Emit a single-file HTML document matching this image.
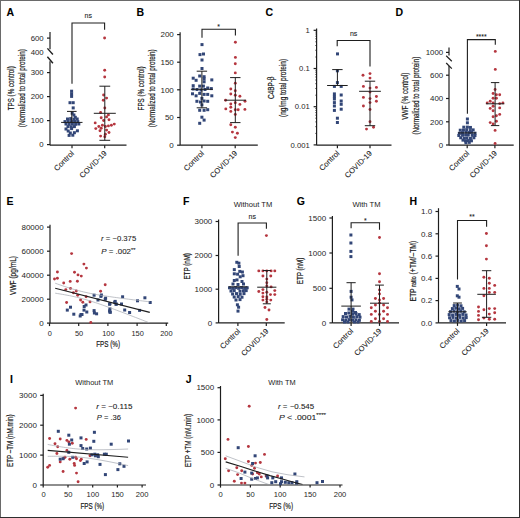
<!DOCTYPE html>
<html><head><meta charset="utf-8"><style>
html,body{margin:0;padding:0;background:#fff;}
body{width:520px;height:518px;overflow:hidden;}
svg{display:block;font-family:"Liberation Sans", sans-serif;}
</style></head><body>
<svg width="520" height="518" viewBox="0 0 520 518" font-family='"Liberation Sans", sans-serif'>
<rect x="0" y="0" width="520" height="518" fill="#fff"/>
<text x="6.50" y="15.50" font-size="10.5" text-anchor="start" font-weight="bold" fill="#000" stroke="#000" stroke-width="0.08">A</text>
<line x1="50.00" y1="32.00" x2="50.00" y2="49.20" stroke="#1e1e1e" stroke-width="1.2"/>
<line x1="50.00" y1="61.30" x2="50.00" y2="145.20" stroke="#1e1e1e" stroke-width="1.2"/>
<line x1="47.40" y1="48.40" x2="52.90" y2="54.50" stroke="#1e1e1e" stroke-width="1.4"/>
<line x1="47.40" y1="56.70" x2="52.90" y2="63.20" stroke="#1e1e1e" stroke-width="1.4"/>
<line x1="47.00" y1="38.10" x2="50.00" y2="38.10" stroke="#1e1e1e" stroke-width="1.2"/>
<line x1="47.00" y1="72.60" x2="50.00" y2="72.60" stroke="#1e1e1e" stroke-width="1.2"/>
<line x1="47.00" y1="96.60" x2="50.00" y2="96.60" stroke="#1e1e1e" stroke-width="1.2"/>
<line x1="47.00" y1="120.60" x2="50.00" y2="120.60" stroke="#1e1e1e" stroke-width="1.2"/>
<line x1="47.00" y1="144.60" x2="50.00" y2="144.60" stroke="#1e1e1e" stroke-width="1.2"/>
<text x="43.70" y="40.80" font-size="7.8" text-anchor="end" font-weight="normal" fill="#262626">600</text>
<text x="43.70" y="54.80" font-size="7.8" text-anchor="end" font-weight="normal" fill="#262626">400</text>
<text x="43.70" y="75.30" font-size="7.8" text-anchor="end" font-weight="normal" fill="#262626">300</text>
<text x="43.70" y="99.30" font-size="7.8" text-anchor="end" font-weight="normal" fill="#262626">200</text>
<text x="43.70" y="123.30" font-size="7.8" text-anchor="end" font-weight="normal" fill="#262626">100</text>
<text x="43.70" y="147.30" font-size="7.8" text-anchor="end" font-weight="normal" fill="#262626">0</text>
<line x1="50.00" y1="145.20" x2="126.50" y2="145.20" stroke="#1e1e1e" stroke-width="1.2"/>
<line x1="72.00" y1="145.20" x2="72.00" y2="148.20" stroke="#1e1e1e" stroke-width="1.2"/>
<line x1="104.70" y1="145.20" x2="104.70" y2="148.20" stroke="#1e1e1e" stroke-width="1.2"/>
<polyline points="72.00,83.80 72.00,23.00 104.60,23.00 104.60,29.70" fill="none" stroke="#1e1e1e" stroke-width="1.1"/>
<text x="88.30" y="18.00" font-size="7" text-anchor="middle" font-weight="normal" fill="#1a1a1a" stroke="#1a1a1a" stroke-width="0.08">ns</text>
<rect x="70.10" y="89.70" width="3.0" height="3.0" fill="#324677"/>
<rect x="70.10" y="92.30" width="3.0" height="3.0" fill="#324677"/>
<rect x="70.10" y="94.90" width="3.0" height="3.0" fill="#324677"/>
<rect x="68.50" y="101.20" width="3.0" height="3.0" fill="#324677"/>
<rect x="71.70" y="101.20" width="3.0" height="3.0" fill="#324677"/>
<rect x="71.70" y="106.40" width="3.0" height="3.0" fill="#324677"/>
<rect x="70.70" y="111.70" width="3.0" height="3.0" fill="#324677"/>
<rect x="72.40" y="113.50" width="3.0" height="3.0" fill="#324677"/>
<rect x="73.80" y="115.80" width="3.0" height="3.0" fill="#324677"/>
<rect x="66.00" y="117.50" width="3.0" height="3.0" fill="#324677"/>
<rect x="69.20" y="117.10" width="3.0" height="3.0" fill="#324677"/>
<rect x="72.50" y="117.70" width="3.0" height="3.0" fill="#324677"/>
<rect x="75.70" y="117.50" width="3.0" height="3.0" fill="#324677"/>
<rect x="63.50" y="120.10" width="3.0" height="3.0" fill="#324677"/>
<rect x="66.70" y="119.80" width="3.0" height="3.0" fill="#324677"/>
<rect x="69.90" y="120.10" width="3.0" height="3.0" fill="#324677"/>
<rect x="73.10" y="119.80" width="3.0" height="3.0" fill="#324677"/>
<rect x="76.30" y="120.10" width="3.0" height="3.0" fill="#324677"/>
<rect x="64.50" y="122.50" width="3.0" height="3.0" fill="#324677"/>
<rect x="67.70" y="122.80" width="3.0" height="3.0" fill="#324677"/>
<rect x="70.90" y="122.50" width="3.0" height="3.0" fill="#324677"/>
<rect x="74.10" y="122.80" width="3.0" height="3.0" fill="#324677"/>
<rect x="77.30" y="122.50" width="3.0" height="3.0" fill="#324677"/>
<rect x="66.50" y="125.10" width="3.0" height="3.0" fill="#324677"/>
<rect x="69.70" y="125.30" width="3.0" height="3.0" fill="#324677"/>
<rect x="72.90" y="125.10" width="3.0" height="3.0" fill="#324677"/>
<rect x="64.50" y="127.50" width="3.0" height="3.0" fill="#324677"/>
<rect x="70.10" y="127.10" width="3.0" height="3.0" fill="#324677"/>
<rect x="66.70" y="129.50" width="3.0" height="3.0" fill="#324677"/>
<rect x="75.90" y="129.30" width="3.0" height="3.0" fill="#324677"/>
<rect x="68.80" y="131.50" width="3.0" height="3.0" fill="#324677"/>
<rect x="72.90" y="131.20" width="3.0" height="3.0" fill="#324677"/>
<rect x="67.60" y="133.90" width="3.0" height="3.0" fill="#324677"/>
<rect x="71.30" y="133.70" width="3.0" height="3.0" fill="#324677"/>
<line x1="61.10" y1="122.40" x2="82.50" y2="122.40" stroke="#1e1e1e" stroke-width="1"/>
<line x1="71.80" y1="122.40" x2="71.80" y2="111.40" stroke="#1e1e1e" stroke-width="1"/>
<line x1="67.00" y1="111.40" x2="76.60" y2="111.40" stroke="#1e1e1e" stroke-width="1"/>
<circle cx="104.60" cy="38.00" r="1.45" fill="#b5363f"/>
<circle cx="104.70" cy="70.30" r="1.45" fill="#b5363f"/>
<circle cx="104.70" cy="77.00" r="1.45" fill="#b5363f"/>
<circle cx="103.60" cy="95.00" r="1.45" fill="#b5363f"/>
<circle cx="106.60" cy="98.10" r="1.45" fill="#b5363f"/>
<circle cx="103.30" cy="100.20" r="1.45" fill="#b5363f"/>
<circle cx="104.80" cy="108.00" r="1.45" fill="#b5363f"/>
<circle cx="100.60" cy="112.50" r="1.45" fill="#b5363f"/>
<circle cx="108.40" cy="114.90" r="1.45" fill="#b5363f"/>
<circle cx="106.60" cy="116.90" r="1.45" fill="#b5363f"/>
<circle cx="101.20" cy="117.80" r="1.45" fill="#b5363f"/>
<circle cx="109.00" cy="119.70" r="1.45" fill="#b5363f"/>
<circle cx="95.20" cy="122.90" r="1.45" fill="#b5363f"/>
<circle cx="103.60" cy="120.50" r="1.45" fill="#b5363f"/>
<circle cx="114.30" cy="124.10" r="1.45" fill="#b5363f"/>
<circle cx="111.40" cy="125.30" r="1.45" fill="#b5363f"/>
<circle cx="108.40" cy="125.90" r="1.45" fill="#b5363f"/>
<circle cx="105.40" cy="126.50" r="1.45" fill="#b5363f"/>
<circle cx="102.40" cy="125.30" r="1.45" fill="#b5363f"/>
<circle cx="98.80" cy="126.50" r="1.45" fill="#b5363f"/>
<circle cx="95.80" cy="128.60" r="1.45" fill="#b5363f"/>
<circle cx="101.20" cy="128.30" r="1.45" fill="#b5363f"/>
<circle cx="100.00" cy="130.70" r="1.45" fill="#b5363f"/>
<circle cx="106.60" cy="130.10" r="1.45" fill="#b5363f"/>
<circle cx="109.00" cy="132.50" r="1.45" fill="#b5363f"/>
<circle cx="105.40" cy="134.30" r="1.45" fill="#b5363f"/>
<circle cx="100.60" cy="136.10" r="1.45" fill="#b5363f"/>
<circle cx="104.80" cy="136.70" r="1.45" fill="#b5363f"/>
<line x1="93.80" y1="113.30" x2="115.80" y2="113.30" stroke="#1e1e1e" stroke-width="1"/>
<line x1="104.80" y1="113.30" x2="104.80" y2="86.20" stroke="#1e1e1e" stroke-width="1"/>
<line x1="99.40" y1="86.20" x2="110.20" y2="86.20" stroke="#1e1e1e" stroke-width="1"/>
<line x1="104.80" y1="113.30" x2="104.80" y2="140.30" stroke="#1e1e1e" stroke-width="1"/>
<line x1="99.40" y1="140.30" x2="110.20" y2="140.30" stroke="#1e1e1e" stroke-width="1"/>
<text x="13.80" y="88.30" font-size="8.19" text-anchor="middle" font-weight="normal" fill="#1a1a1a" stroke="#1a1a1a" stroke-width="0.2" transform="rotate(-90 13.80 88.30)" textLength="44" lengthAdjust="spacingAndGlyphs">TPS (% control)</text>
<text x="25.20" y="88.20" font-size="8.19" text-anchor="middle" font-weight="normal" fill="#1a1a1a" stroke="#1a1a1a" stroke-width="0.2" transform="rotate(-90 25.20 88.20)" textLength="78" lengthAdjust="spacingAndGlyphs">(Normalized to total protein)</text>
<text x="74.60" y="153.80" font-size="7.6" text-anchor="end" font-weight="normal" fill="#1a1a1a" stroke="#1a1a1a" stroke-width="0.08" transform="rotate(-45 74.60 153.80)" textLength="25.0" lengthAdjust="spacingAndGlyphs">Control</text>
<text x="107.30" y="153.80" font-size="7.6" text-anchor="end" font-weight="normal" fill="#1a1a1a" stroke="#1a1a1a" stroke-width="0.08" transform="rotate(-45 107.30 153.80)">COVID-19</text>
<text x="136.50" y="15.50" font-size="10.5" text-anchor="start" font-weight="bold" fill="#000" stroke="#000" stroke-width="0.08">B</text>
<line x1="180.10" y1="32.30" x2="180.10" y2="145.20" stroke="#1e1e1e" stroke-width="1.2"/>
<line x1="177.10" y1="34.60" x2="180.10" y2="34.60" stroke="#1e1e1e" stroke-width="1.2"/>
<text x="173.80" y="37.32" font-size="8.0" text-anchor="end" font-weight="normal" fill="#262626">200</text>
<line x1="177.10" y1="62.20" x2="180.10" y2="62.20" stroke="#1e1e1e" stroke-width="1.2"/>
<text x="173.80" y="64.92" font-size="8.0" text-anchor="end" font-weight="normal" fill="#262626">150</text>
<line x1="177.10" y1="89.80" x2="180.10" y2="89.80" stroke="#1e1e1e" stroke-width="1.2"/>
<text x="173.80" y="92.52" font-size="8.0" text-anchor="end" font-weight="normal" fill="#262626">100</text>
<line x1="177.10" y1="117.50" x2="180.10" y2="117.50" stroke="#1e1e1e" stroke-width="1.2"/>
<text x="173.80" y="120.22" font-size="8.0" text-anchor="end" font-weight="normal" fill="#262626">50</text>
<line x1="177.10" y1="145.20" x2="180.10" y2="145.20" stroke="#1e1e1e" stroke-width="1.2"/>
<text x="173.80" y="147.92" font-size="8.0" text-anchor="end" font-weight="normal" fill="#262626">0</text>
<line x1="180.10" y1="145.20" x2="257.80" y2="145.20" stroke="#1e1e1e" stroke-width="1.2"/>
<line x1="201.90" y1="145.20" x2="201.90" y2="148.20" stroke="#1e1e1e" stroke-width="1.2"/>
<line x1="235.20" y1="145.20" x2="235.20" y2="148.20" stroke="#1e1e1e" stroke-width="1.2"/>
<polyline points="202.00,37.70 202.00,29.20 235.40,29.20 235.40,35.40" fill="none" stroke="#1e1e1e" stroke-width="1.1"/>
<text x="218.70" y="28.50" font-size="7" text-anchor="middle" font-weight="normal" fill="#1a1a1a" stroke="#1a1a1a" stroke-width="0.08">*</text>
<rect x="200.50" y="43.10" width="3.0" height="3.0" fill="#324677"/>
<rect x="198.50" y="53.10" width="3.0" height="3.0" fill="#324677"/>
<rect x="202.00" y="52.50" width="3.0" height="3.0" fill="#324677"/>
<rect x="200.50" y="58.50" width="3.0" height="3.0" fill="#324677"/>
<rect x="200.50" y="67.00" width="3.0" height="3.0" fill="#324677"/>
<rect x="198.20" y="74.50" width="3.0" height="3.0" fill="#324677"/>
<rect x="202.60" y="75.20" width="3.0" height="3.0" fill="#324677"/>
<rect x="191.70" y="76.70" width="3.0" height="3.0" fill="#324677"/>
<rect x="194.60" y="78.80" width="3.0" height="3.0" fill="#324677"/>
<rect x="202.60" y="77.40" width="3.0" height="3.0" fill="#324677"/>
<rect x="210.30" y="78.40" width="3.0" height="3.0" fill="#324677"/>
<rect x="202.60" y="80.30" width="3.0" height="3.0" fill="#324677"/>
<rect x="191.70" y="84.20" width="3.0" height="3.0" fill="#324677"/>
<rect x="198.20" y="84.60" width="3.0" height="3.0" fill="#324677"/>
<rect x="201.90" y="84.60" width="3.0" height="3.0" fill="#324677"/>
<rect x="206.20" y="86.50" width="3.0" height="3.0" fill="#324677"/>
<rect x="209.80" y="87.10" width="3.0" height="3.0" fill="#324677"/>
<rect x="191.70" y="87.50" width="3.0" height="3.0" fill="#324677"/>
<rect x="195.50" y="88.00" width="3.0" height="3.0" fill="#324677"/>
<rect x="199.50" y="88.50" width="3.0" height="3.0" fill="#324677"/>
<rect x="203.50" y="88.00" width="3.0" height="3.0" fill="#324677"/>
<rect x="191.00" y="92.30" width="3.0" height="3.0" fill="#324677"/>
<rect x="194.60" y="94.30" width="3.0" height="3.0" fill="#324677"/>
<rect x="198.20" y="91.90" width="3.0" height="3.0" fill="#324677"/>
<rect x="202.60" y="92.90" width="3.0" height="3.0" fill="#324677"/>
<rect x="206.20" y="92.90" width="3.0" height="3.0" fill="#324677"/>
<rect x="210.30" y="94.30" width="3.0" height="3.0" fill="#324677"/>
<rect x="200.40" y="96.90" width="3.0" height="3.0" fill="#324677"/>
<rect x="195.40" y="99.80" width="3.0" height="3.0" fill="#324677"/>
<rect x="199.00" y="100.50" width="3.0" height="3.0" fill="#324677"/>
<rect x="202.60" y="99.50" width="3.0" height="3.0" fill="#324677"/>
<rect x="206.20" y="99.80" width="3.0" height="3.0" fill="#324677"/>
<rect x="200.40" y="103.40" width="3.0" height="3.0" fill="#324677"/>
<rect x="198.20" y="108.80" width="3.0" height="3.0" fill="#324677"/>
<rect x="202.60" y="108.80" width="3.0" height="3.0" fill="#324677"/>
<rect x="206.20" y="108.20" width="3.0" height="3.0" fill="#324677"/>
<rect x="200.40" y="115.70" width="3.0" height="3.0" fill="#324677"/>
<rect x="202.60" y="118.60" width="3.0" height="3.0" fill="#324677"/>
<rect x="198.20" y="121.80" width="3.0" height="3.0" fill="#324677"/>
<line x1="190.90" y1="89.30" x2="212.90" y2="89.30" stroke="#1e1e1e" stroke-width="1"/>
<line x1="201.90" y1="89.30" x2="201.90" y2="71.20" stroke="#1e1e1e" stroke-width="1"/>
<line x1="196.70" y1="71.20" x2="207.10" y2="71.20" stroke="#1e1e1e" stroke-width="1"/>
<line x1="201.90" y1="89.30" x2="201.90" y2="107.80" stroke="#1e1e1e" stroke-width="1"/>
<line x1="196.70" y1="107.80" x2="207.10" y2="107.80" stroke="#1e1e1e" stroke-width="1"/>
<circle cx="235.40" cy="42.30" r="1.45" fill="#b5363f"/>
<circle cx="235.40" cy="57.40" r="1.45" fill="#b5363f"/>
<circle cx="235.30" cy="63.70" r="1.45" fill="#b5363f"/>
<circle cx="235.30" cy="72.90" r="1.45" fill="#b5363f"/>
<circle cx="235.30" cy="83.20" r="1.45" fill="#b5363f"/>
<circle cx="230.80" cy="89.00" r="1.45" fill="#b5363f"/>
<circle cx="235.30" cy="90.70" r="1.45" fill="#b5363f"/>
<circle cx="230.80" cy="94.00" r="1.45" fill="#b5363f"/>
<circle cx="235.30" cy="95.20" r="1.45" fill="#b5363f"/>
<circle cx="239.90" cy="96.20" r="1.45" fill="#b5363f"/>
<circle cx="225.60" cy="100.30" r="1.45" fill="#b5363f"/>
<circle cx="245.00" cy="101.20" r="1.45" fill="#b5363f"/>
<circle cx="230.80" cy="104.00" r="1.45" fill="#b5363f"/>
<circle cx="235.30" cy="102.80" r="1.45" fill="#b5363f"/>
<circle cx="239.90" cy="104.40" r="1.45" fill="#b5363f"/>
<circle cx="225.80" cy="108.90" r="1.45" fill="#b5363f"/>
<circle cx="230.80" cy="107.30" r="1.45" fill="#b5363f"/>
<circle cx="235.30" cy="109.80" r="1.45" fill="#b5363f"/>
<circle cx="238.20" cy="109.80" r="1.45" fill="#b5363f"/>
<circle cx="244.90" cy="109.40" r="1.45" fill="#b5363f"/>
<circle cx="230.80" cy="111.40" r="1.45" fill="#b5363f"/>
<circle cx="235.30" cy="114.40" r="1.45" fill="#b5363f"/>
<circle cx="230.80" cy="124.70" r="1.45" fill="#b5363f"/>
<circle cx="235.30" cy="127.20" r="1.45" fill="#b5363f"/>
<circle cx="232.40" cy="132.10" r="1.45" fill="#b5363f"/>
<circle cx="237.40" cy="133.30" r="1.45" fill="#b5363f"/>
<circle cx="235.30" cy="137.60" r="1.45" fill="#b5363f"/>
<line x1="224.50" y1="100.20" x2="246.10" y2="100.20" stroke="#1e1e1e" stroke-width="1"/>
<line x1="235.30" y1="100.20" x2="235.30" y2="77.60" stroke="#1e1e1e" stroke-width="1"/>
<line x1="230.10" y1="77.60" x2="240.50" y2="77.60" stroke="#1e1e1e" stroke-width="1"/>
<line x1="235.30" y1="100.20" x2="235.30" y2="122.60" stroke="#1e1e1e" stroke-width="1"/>
<line x1="230.10" y1="122.60" x2="240.50" y2="122.60" stroke="#1e1e1e" stroke-width="1"/>
<text x="143.80" y="88.40" font-size="8.19" text-anchor="middle" font-weight="normal" fill="#1a1a1a" stroke="#1a1a1a" stroke-width="0.2" transform="rotate(-90 143.80 88.40)" textLength="44" lengthAdjust="spacingAndGlyphs">FPS (% control)</text>
<text x="155.20" y="88.30" font-size="8.19" text-anchor="middle" font-weight="normal" fill="#1a1a1a" stroke="#1a1a1a" stroke-width="0.2" transform="rotate(-90 155.20 88.30)" textLength="78" lengthAdjust="spacingAndGlyphs">(Normalized to total protein)</text>
<text x="204.50" y="153.80" font-size="7.6" text-anchor="end" font-weight="normal" fill="#1a1a1a" stroke="#1a1a1a" stroke-width="0.08" transform="rotate(-45 204.50 153.80)" textLength="25.0" lengthAdjust="spacingAndGlyphs">Control</text>
<text x="237.80" y="153.80" font-size="7.6" text-anchor="end" font-weight="normal" fill="#1a1a1a" stroke="#1a1a1a" stroke-width="0.08" transform="rotate(-45 237.80 153.80)">COVID-19</text>
<text x="265.50" y="16.00" font-size="10.5" text-anchor="start" font-weight="bold" fill="#000" stroke="#000" stroke-width="0.08">C</text>
<line x1="316.60" y1="28.50" x2="316.60" y2="145.20" stroke="#1e1e1e" stroke-width="1.2"/>
<line x1="313.60" y1="30.30" x2="316.60" y2="30.30" stroke="#1e1e1e" stroke-width="1.2"/>
<text x="309.80" y="33.00" font-size="7.7" text-anchor="end" font-weight="normal" fill="#262626">1</text>
<line x1="315.10" y1="57.00" x2="316.60" y2="57.00" stroke="#1e1e1e" stroke-width="0.6"/>
<line x1="315.10" y1="50.27" x2="316.60" y2="50.27" stroke="#1e1e1e" stroke-width="0.6"/>
<line x1="315.10" y1="45.50" x2="316.60" y2="45.50" stroke="#1e1e1e" stroke-width="0.6"/>
<line x1="315.10" y1="41.80" x2="316.60" y2="41.80" stroke="#1e1e1e" stroke-width="0.6"/>
<line x1="315.10" y1="38.77" x2="316.60" y2="38.77" stroke="#1e1e1e" stroke-width="0.6"/>
<line x1="315.10" y1="36.22" x2="316.60" y2="36.22" stroke="#1e1e1e" stroke-width="0.6"/>
<line x1="315.10" y1="34.00" x2="316.60" y2="34.00" stroke="#1e1e1e" stroke-width="0.6"/>
<line x1="315.10" y1="32.05" x2="316.60" y2="32.05" stroke="#1e1e1e" stroke-width="0.6"/>
<line x1="313.60" y1="68.50" x2="316.60" y2="68.50" stroke="#1e1e1e" stroke-width="1.2"/>
<text x="309.80" y="71.20" font-size="7.7" text-anchor="end" font-weight="normal" fill="#262626">0.1</text>
<line x1="315.10" y1="95.20" x2="316.60" y2="95.20" stroke="#1e1e1e" stroke-width="0.6"/>
<line x1="315.10" y1="88.47" x2="316.60" y2="88.47" stroke="#1e1e1e" stroke-width="0.6"/>
<line x1="315.10" y1="83.70" x2="316.60" y2="83.70" stroke="#1e1e1e" stroke-width="0.6"/>
<line x1="315.10" y1="80.00" x2="316.60" y2="80.00" stroke="#1e1e1e" stroke-width="0.6"/>
<line x1="315.10" y1="76.97" x2="316.60" y2="76.97" stroke="#1e1e1e" stroke-width="0.6"/>
<line x1="315.10" y1="74.42" x2="316.60" y2="74.42" stroke="#1e1e1e" stroke-width="0.6"/>
<line x1="315.10" y1="72.20" x2="316.60" y2="72.20" stroke="#1e1e1e" stroke-width="0.6"/>
<line x1="315.10" y1="70.25" x2="316.60" y2="70.25" stroke="#1e1e1e" stroke-width="0.6"/>
<line x1="313.60" y1="106.70" x2="316.60" y2="106.70" stroke="#1e1e1e" stroke-width="1.2"/>
<text x="309.80" y="109.40" font-size="7.7" text-anchor="end" font-weight="normal" fill="#262626">0.01</text>
<line x1="315.10" y1="133.40" x2="316.60" y2="133.40" stroke="#1e1e1e" stroke-width="0.6"/>
<line x1="315.10" y1="126.67" x2="316.60" y2="126.67" stroke="#1e1e1e" stroke-width="0.6"/>
<line x1="315.10" y1="121.90" x2="316.60" y2="121.90" stroke="#1e1e1e" stroke-width="0.6"/>
<line x1="315.10" y1="118.20" x2="316.60" y2="118.20" stroke="#1e1e1e" stroke-width="0.6"/>
<line x1="315.10" y1="115.17" x2="316.60" y2="115.17" stroke="#1e1e1e" stroke-width="0.6"/>
<line x1="315.10" y1="112.62" x2="316.60" y2="112.62" stroke="#1e1e1e" stroke-width="0.6"/>
<line x1="315.10" y1="110.40" x2="316.60" y2="110.40" stroke="#1e1e1e" stroke-width="0.6"/>
<line x1="315.10" y1="108.45" x2="316.60" y2="108.45" stroke="#1e1e1e" stroke-width="0.6"/>
<line x1="313.60" y1="144.90" x2="316.60" y2="144.90" stroke="#1e1e1e" stroke-width="1.2"/>
<text x="309.80" y="147.60" font-size="7.7" text-anchor="end" font-weight="normal" fill="#262626">0.001</text>
<line x1="316.60" y1="145.20" x2="391.50" y2="145.20" stroke="#1e1e1e" stroke-width="1.2"/>
<line x1="337.40" y1="145.20" x2="337.40" y2="148.20" stroke="#1e1e1e" stroke-width="1.2"/>
<line x1="370.00" y1="145.20" x2="370.00" y2="148.20" stroke="#1e1e1e" stroke-width="1.2"/>
<polyline points="337.20,46.20 337.20,40.50 370.00,40.50 370.00,66.40" fill="none" stroke="#1e1e1e" stroke-width="1.1"/>
<text x="353.60" y="36.00" font-size="7" text-anchor="middle" font-weight="normal" fill="#1a1a1a" stroke="#1a1a1a" stroke-width="0.08">ns</text>
<rect x="336.00" y="52.40" width="3.0" height="3.0" fill="#324677"/>
<rect x="335.90" y="69.30" width="3.0" height="3.0" fill="#324677"/>
<rect x="335.90" y="81.10" width="3.0" height="3.0" fill="#324677"/>
<rect x="332.90" y="84.90" width="3.0" height="3.0" fill="#324677"/>
<rect x="339.70" y="84.90" width="3.0" height="3.0" fill="#324677"/>
<rect x="332.90" y="92.40" width="3.0" height="3.0" fill="#324677"/>
<rect x="332.90" y="95.00" width="3.0" height="3.0" fill="#324677"/>
<rect x="332.90" y="97.50" width="3.0" height="3.0" fill="#324677"/>
<rect x="332.90" y="101.10" width="3.0" height="3.0" fill="#324677"/>
<rect x="332.90" y="104.50" width="3.0" height="3.0" fill="#324677"/>
<rect x="332.90" y="108.90" width="3.0" height="3.0" fill="#324677"/>
<rect x="339.70" y="93.50" width="3.0" height="3.0" fill="#324677"/>
<rect x="339.70" y="99.50" width="3.0" height="3.0" fill="#324677"/>
<rect x="339.70" y="102.80" width="3.0" height="3.0" fill="#324677"/>
<rect x="339.70" y="107.70" width="3.0" height="3.0" fill="#324677"/>
<rect x="335.90" y="116.70" width="3.0" height="3.0" fill="#324677"/>
<rect x="335.90" y="121.00" width="3.0" height="3.0" fill="#324677"/>
<line x1="327.10" y1="85.50" x2="347.70" y2="85.50" stroke="#1e1e1e" stroke-width="1"/>
<line x1="337.40" y1="85.50" x2="337.40" y2="69.60" stroke="#1e1e1e" stroke-width="1"/>
<line x1="332.20" y1="69.60" x2="342.60" y2="69.60" stroke="#1e1e1e" stroke-width="1"/>
<circle cx="363.00" cy="75.20" r="1.45" fill="#b5363f"/>
<circle cx="370.00" cy="73.60" r="1.45" fill="#b5363f"/>
<circle cx="370.00" cy="78.10" r="1.45" fill="#b5363f"/>
<circle cx="363.40" cy="86.40" r="1.45" fill="#b5363f"/>
<circle cx="370.00" cy="88.10" r="1.45" fill="#b5363f"/>
<circle cx="376.40" cy="87.40" r="1.45" fill="#b5363f"/>
<circle cx="370.00" cy="92.10" r="1.45" fill="#b5363f"/>
<circle cx="363.40" cy="97.40" r="1.45" fill="#b5363f"/>
<circle cx="370.00" cy="98.60" r="1.45" fill="#b5363f"/>
<circle cx="376.40" cy="96.50" r="1.45" fill="#b5363f"/>
<circle cx="376.40" cy="101.20" r="1.45" fill="#b5363f"/>
<circle cx="370.00" cy="102.60" r="1.45" fill="#b5363f"/>
<circle cx="363.40" cy="106.00" r="1.45" fill="#b5363f"/>
<circle cx="370.00" cy="109.50" r="1.45" fill="#b5363f"/>
<circle cx="370.00" cy="121.70" r="1.45" fill="#b5363f"/>
<circle cx="366.50" cy="129.10" r="1.45" fill="#b5363f"/>
<circle cx="373.50" cy="127.20" r="1.45" fill="#b5363f"/>
<line x1="359.10" y1="91.30" x2="380.90" y2="91.30" stroke="#1e1e1e" stroke-width="1"/>
<line x1="370.00" y1="91.30" x2="370.00" y2="81.20" stroke="#1e1e1e" stroke-width="1"/>
<line x1="364.80" y1="81.20" x2="375.20" y2="81.20" stroke="#1e1e1e" stroke-width="1"/>
<line x1="370.00" y1="91.30" x2="370.00" y2="125.70" stroke="#1e1e1e" stroke-width="1"/>
<line x1="364.80" y1="125.70" x2="375.20" y2="125.70" stroke="#1e1e1e" stroke-width="1"/>
<text x="274.50" y="87.70" font-size="8.19" text-anchor="middle" font-weight="normal" fill="#1a1a1a" stroke="#1a1a1a" stroke-width="0.2" transform="rotate(-90 274.50 87.70)" textLength="22.5" lengthAdjust="spacingAndGlyphs">C4BP-&#946;</text>
<text x="285.60" y="87.90" font-size="8.19" text-anchor="middle" font-weight="normal" fill="#1a1a1a" stroke="#1a1a1a" stroke-width="0.2" transform="rotate(-90 285.60 87.90)" textLength="58" lengthAdjust="spacingAndGlyphs">(ng/mg total protein)</text>
<text x="340.00" y="153.70" font-size="7.6" text-anchor="end" font-weight="normal" fill="#1a1a1a" stroke="#1a1a1a" stroke-width="0.08" transform="rotate(-45 340.00 153.70)" textLength="25.0" lengthAdjust="spacingAndGlyphs">Control</text>
<text x="372.60" y="153.70" font-size="7.6" text-anchor="end" font-weight="normal" fill="#1a1a1a" stroke="#1a1a1a" stroke-width="0.08" transform="rotate(-45 372.60 153.70)">COVID-19</text>
<text x="395.50" y="16.00" font-size="10.5" text-anchor="start" font-weight="bold" fill="#000" stroke="#000" stroke-width="0.08">D</text>
<line x1="449.00" y1="47.50" x2="449.00" y2="55.50" stroke="#1e1e1e" stroke-width="1.2"/>
<line x1="449.00" y1="66.00" x2="449.00" y2="145.20" stroke="#1e1e1e" stroke-width="1.2"/>
<line x1="446.20" y1="55.80" x2="451.80" y2="61.20" stroke="#1e1e1e" stroke-width="1.2"/>
<line x1="446.20" y1="63.00" x2="451.80" y2="68.60" stroke="#1e1e1e" stroke-width="1.2"/>
<line x1="446.00" y1="52.40" x2="449.00" y2="52.40" stroke="#1e1e1e" stroke-width="1.2"/>
<text x="443.20" y="55.10" font-size="7.9" text-anchor="end" font-weight="normal" fill="#262626">1000</text>
<line x1="446.00" y1="75.20" x2="449.00" y2="75.20" stroke="#1e1e1e" stroke-width="1.2"/>
<text x="443.20" y="77.90" font-size="7.9" text-anchor="end" font-weight="normal" fill="#262626">600</text>
<line x1="446.00" y1="98.50" x2="449.00" y2="98.50" stroke="#1e1e1e" stroke-width="1.2"/>
<text x="443.20" y="101.20" font-size="7.9" text-anchor="end" font-weight="normal" fill="#262626">400</text>
<line x1="446.00" y1="121.80" x2="449.00" y2="121.80" stroke="#1e1e1e" stroke-width="1.2"/>
<text x="443.20" y="124.50" font-size="7.9" text-anchor="end" font-weight="normal" fill="#262626">200</text>
<line x1="446.00" y1="145.00" x2="449.00" y2="145.00" stroke="#1e1e1e" stroke-width="1.2"/>
<text x="443.20" y="147.70" font-size="7.9" text-anchor="end" font-weight="normal" fill="#262626">0</text>
<line x1="449.00" y1="145.20" x2="513.70" y2="145.20" stroke="#1e1e1e" stroke-width="1.2"/>
<line x1="467.20" y1="145.20" x2="467.20" y2="148.20" stroke="#1e1e1e" stroke-width="1.2"/>
<line x1="494.90" y1="145.20" x2="494.90" y2="148.20" stroke="#1e1e1e" stroke-width="1.2"/>
<polyline points="467.40,113.80 467.40,39.60 495.30,39.60 495.30,44.70" fill="none" stroke="#1e1e1e" stroke-width="1.1"/>
<text x="481.35" y="38.50" font-size="7" text-anchor="middle" font-weight="normal" fill="#1a1a1a" stroke="#1a1a1a" stroke-width="0.08">****</text>
<rect x="465.90" y="117.50" width="3.0" height="3.0" fill="#324677"/>
<rect x="465.90" y="121.30" width="3.0" height="3.0" fill="#324677"/>
<rect x="462.29" y="125.68" width="3.0" height="3.0" fill="#324677"/>
<rect x="465.88" y="125.59" width="3.0" height="3.0" fill="#324677"/>
<rect x="468.94" y="125.94" width="3.0" height="3.0" fill="#324677"/>
<rect x="458.77" y="128.71" width="3.0" height="3.0" fill="#324677"/>
<rect x="461.94" y="128.62" width="3.0" height="3.0" fill="#324677"/>
<rect x="465.18" y="128.21" width="3.0" height="3.0" fill="#324677"/>
<rect x="468.81" y="129.09" width="3.0" height="3.0" fill="#324677"/>
<rect x="471.65" y="128.37" width="3.0" height="3.0" fill="#324677"/>
<rect x="457.85" y="131.84" width="3.0" height="3.0" fill="#324677"/>
<rect x="460.99" y="131.18" width="3.0" height="3.0" fill="#324677"/>
<rect x="464.67" y="130.76" width="3.0" height="3.0" fill="#324677"/>
<rect x="467.73" y="131.05" width="3.0" height="3.0" fill="#324677"/>
<rect x="470.07" y="130.84" width="3.0" height="3.0" fill="#324677"/>
<rect x="473.47" y="131.68" width="3.0" height="3.0" fill="#324677"/>
<rect x="457.32" y="134.00" width="3.0" height="3.0" fill="#324677"/>
<rect x="461.07" y="133.75" width="3.0" height="3.0" fill="#324677"/>
<rect x="464.16" y="133.38" width="3.0" height="3.0" fill="#324677"/>
<rect x="466.77" y="133.55" width="3.0" height="3.0" fill="#324677"/>
<rect x="470.72" y="133.81" width="3.0" height="3.0" fill="#324677"/>
<rect x="473.48" y="134.00" width="3.0" height="3.0" fill="#324677"/>
<rect x="459.24" y="136.26" width="3.0" height="3.0" fill="#324677"/>
<rect x="462.85" y="136.74" width="3.0" height="3.0" fill="#324677"/>
<rect x="465.39" y="136.59" width="3.0" height="3.0" fill="#324677"/>
<rect x="468.93" y="136.95" width="3.0" height="3.0" fill="#324677"/>
<rect x="472.38" y="136.25" width="3.0" height="3.0" fill="#324677"/>
<rect x="461.48" y="138.64" width="3.0" height="3.0" fill="#324677"/>
<rect x="464.00" y="139.41" width="3.0" height="3.0" fill="#324677"/>
<rect x="466.88" y="139.09" width="3.0" height="3.0" fill="#324677"/>
<rect x="469.95" y="139.30" width="3.0" height="3.0" fill="#324677"/>
<rect x="464.42" y="141.19" width="3.0" height="3.0" fill="#324677"/>
<rect x="467.75" y="140.88" width="3.0" height="3.0" fill="#324677"/>
<line x1="458.20" y1="132.90" x2="476.20" y2="132.90" stroke="#1e1e1e" stroke-width="1"/>
<circle cx="495.30" cy="51.40" r="1.45" fill="#b5363f"/>
<circle cx="495.30" cy="69.40" r="1.45" fill="#b5363f"/>
<circle cx="495.10" cy="89.50" r="1.45" fill="#b5363f"/>
<circle cx="493.10" cy="93.50" r="1.45" fill="#b5363f"/>
<circle cx="496.40" cy="94.80" r="1.45" fill="#b5363f"/>
<circle cx="499.70" cy="94.80" r="1.45" fill="#b5363f"/>
<circle cx="493.10" cy="98.30" r="1.45" fill="#b5363f"/>
<circle cx="496.40" cy="98.30" r="1.45" fill="#b5363f"/>
<circle cx="490.20" cy="101.30" r="1.45" fill="#b5363f"/>
<circle cx="487.20" cy="102.90" r="1.45" fill="#b5363f"/>
<circle cx="493.10" cy="102.90" r="1.45" fill="#b5363f"/>
<circle cx="502.90" cy="102.90" r="1.45" fill="#b5363f"/>
<circle cx="499.70" cy="103.60" r="1.45" fill="#b5363f"/>
<circle cx="493.10" cy="106.20" r="1.45" fill="#b5363f"/>
<circle cx="490.20" cy="108.40" r="1.45" fill="#b5363f"/>
<circle cx="499.70" cy="107.90" r="1.45" fill="#b5363f"/>
<circle cx="493.10" cy="110.80" r="1.45" fill="#b5363f"/>
<circle cx="493.10" cy="116.70" r="1.45" fill="#b5363f"/>
<circle cx="496.40" cy="115.70" r="1.45" fill="#b5363f"/>
<circle cx="499.70" cy="114.40" r="1.45" fill="#b5363f"/>
<circle cx="490.20" cy="122.60" r="1.45" fill="#b5363f"/>
<circle cx="496.40" cy="121.30" r="1.45" fill="#b5363f"/>
<circle cx="493.10" cy="123.90" r="1.45" fill="#b5363f"/>
<circle cx="495.10" cy="130.40" r="1.45" fill="#b5363f"/>
<circle cx="495.10" cy="143.50" r="1.45" fill="#b5363f"/>
<line x1="485.90" y1="103.80" x2="504.30" y2="103.80" stroke="#1e1e1e" stroke-width="1"/>
<line x1="495.10" y1="103.80" x2="495.10" y2="82.60" stroke="#1e1e1e" stroke-width="1"/>
<line x1="490.90" y1="82.60" x2="499.30" y2="82.60" stroke="#1e1e1e" stroke-width="1"/>
<line x1="495.10" y1="103.80" x2="495.10" y2="125.60" stroke="#1e1e1e" stroke-width="1"/>
<line x1="490.90" y1="125.60" x2="499.30" y2="125.60" stroke="#1e1e1e" stroke-width="1"/>
<text x="408.10" y="96.20" font-size="8.19" text-anchor="middle" font-weight="normal" fill="#1a1a1a" stroke="#1a1a1a" stroke-width="0.2" transform="rotate(-90 408.10 96.20)" textLength="47" lengthAdjust="spacingAndGlyphs">VWF (% control)</text>
<text x="419.50" y="95.60" font-size="8.19" text-anchor="middle" font-weight="normal" fill="#1a1a1a" stroke="#1a1a1a" stroke-width="0.2" transform="rotate(-90 419.50 95.60)" textLength="78" lengthAdjust="spacingAndGlyphs">(Normalized to total protein)</text>
<text x="469.80" y="153.80" font-size="7.6" text-anchor="end" font-weight="normal" fill="#1a1a1a" stroke="#1a1a1a" stroke-width="0.08" transform="rotate(-45 469.80 153.80)" textLength="25.0" lengthAdjust="spacingAndGlyphs">Control</text>
<text x="497.50" y="153.80" font-size="7.6" text-anchor="end" font-weight="normal" fill="#1a1a1a" stroke="#1a1a1a" stroke-width="0.08" transform="rotate(-45 497.50 153.80)">COVID-19</text>
<text x="6.50" y="205.00" font-size="10.5" text-anchor="start" font-weight="bold" fill="#000" stroke="#000" stroke-width="0.08">E</text>
<line x1="50.00" y1="224.70" x2="50.00" y2="323.10" stroke="#1e1e1e" stroke-width="1.2"/>
<line x1="47.00" y1="227.10" x2="50.00" y2="227.10" stroke="#1e1e1e" stroke-width="1.2"/>
<text x="43.70" y="229.82" font-size="8.0" text-anchor="end" font-weight="normal" fill="#262626">80000</text>
<line x1="47.00" y1="251.20" x2="50.00" y2="251.20" stroke="#1e1e1e" stroke-width="1.2"/>
<text x="43.70" y="253.92" font-size="8.0" text-anchor="end" font-weight="normal" fill="#262626">60000</text>
<line x1="47.00" y1="275.20" x2="50.00" y2="275.20" stroke="#1e1e1e" stroke-width="1.2"/>
<text x="43.70" y="277.92" font-size="8.0" text-anchor="end" font-weight="normal" fill="#262626">40000</text>
<line x1="47.00" y1="299.20" x2="50.00" y2="299.20" stroke="#1e1e1e" stroke-width="1.2"/>
<text x="43.70" y="301.92" font-size="8.0" text-anchor="end" font-weight="normal" fill="#262626">20000</text>
<line x1="47.00" y1="323.10" x2="50.00" y2="323.10" stroke="#1e1e1e" stroke-width="1.2"/>
<text x="43.70" y="325.82" font-size="8.0" text-anchor="end" font-weight="normal" fill="#262626">0</text>
<line x1="50.00" y1="323.10" x2="168.20" y2="323.10" stroke="#1e1e1e" stroke-width="1.2"/>
<line x1="49.50" y1="323.10" x2="49.50" y2="326.10" stroke="#1e1e1e" stroke-width="1.2"/>
<line x1="78.70" y1="323.10" x2="78.70" y2="326.10" stroke="#1e1e1e" stroke-width="1.2"/>
<line x1="107.90" y1="323.10" x2="107.90" y2="326.10" stroke="#1e1e1e" stroke-width="1.2"/>
<line x1="137.10" y1="323.10" x2="137.10" y2="326.10" stroke="#1e1e1e" stroke-width="1.2"/>
<line x1="166.30" y1="323.10" x2="166.30" y2="326.10" stroke="#1e1e1e" stroke-width="1.2"/>
<text x="49.90" y="335.60" font-size="7.4" text-anchor="middle" font-weight="normal" fill="#262626">0</text>
<text x="79.00" y="335.60" font-size="7.4" text-anchor="middle" font-weight="normal" fill="#262626">50</text>
<text x="108.40" y="335.60" font-size="7.4" text-anchor="middle" font-weight="normal" fill="#262626">100</text>
<text x="137.60" y="335.60" font-size="7.4" text-anchor="middle" font-weight="normal" fill="#262626">150</text>
<text x="166.40" y="335.60" font-size="7.4" text-anchor="middle" font-weight="normal" fill="#262626">200</text>
<text x="108.10" y="346.60" font-size="8.4" text-anchor="middle" font-weight="normal" fill="#1a1a1a" stroke="#1a1a1a" stroke-width="0.2" textLength="23.8" lengthAdjust="spacingAndGlyphs">FPS (%)</text>
<text x="15.90" y="275.50" font-size="8.19" text-anchor="middle" font-weight="normal" fill="#1a1a1a" stroke="#1a1a1a" stroke-width="0.2" transform="rotate(-90 15.90 275.50)" textLength="39" lengthAdjust="spacingAndGlyphs">VWF (pg/mL)</text>
<text x="101.00" y="241.40" font-size="7" text-anchor="start" font-weight="normal" fill="#1a1a1a" stroke="#1a1a1a" stroke-width="0.08" textLength="35.2" lengthAdjust="spacingAndGlyphs"><tspan font-style="italic">r</tspan> = &#8722;0.375</text>
<text x="101.20" y="254.40" font-size="7" text-anchor="start" font-weight="normal" fill="#1a1a1a" stroke="#1a1a1a" stroke-width="0.08" textLength="34.2" lengthAdjust="spacingAndGlyphs"><tspan font-style="italic">P</tspan> = .002<tspan font-size="5" dy="-2.5">**</tspan></text>
<circle cx="71.60" cy="253.60" r="1.45" fill="#b5363f"/>
<circle cx="83.90" cy="264.10" r="1.45" fill="#b5363f"/>
<circle cx="86.40" cy="268.10" r="1.45" fill="#b5363f"/>
<circle cx="57.40" cy="272.00" r="1.45" fill="#b5363f"/>
<circle cx="74.50" cy="272.20" r="1.45" fill="#b5363f"/>
<circle cx="78.00" cy="274.90" r="1.45" fill="#b5363f"/>
<circle cx="81.30" cy="276.10" r="1.45" fill="#b5363f"/>
<circle cx="54.50" cy="279.00" r="1.45" fill="#b5363f"/>
<circle cx="57.40" cy="278.30" r="1.45" fill="#b5363f"/>
<circle cx="63.70" cy="283.00" r="1.45" fill="#b5363f"/>
<circle cx="70.20" cy="281.40" r="1.45" fill="#b5363f"/>
<circle cx="77.40" cy="281.20" r="1.45" fill="#b5363f"/>
<circle cx="105.20" cy="284.80" r="1.45" fill="#b5363f"/>
<circle cx="65.80" cy="289.60" r="1.45" fill="#b5363f"/>
<circle cx="70.50" cy="288.40" r="1.45" fill="#b5363f"/>
<circle cx="76.30" cy="291.00" r="1.45" fill="#b5363f"/>
<circle cx="100.60" cy="291.30" r="1.45" fill="#b5363f"/>
<circle cx="73.40" cy="292.80" r="1.45" fill="#b5363f"/>
<circle cx="77.70" cy="295.20" r="1.45" fill="#b5363f"/>
<circle cx="86.10" cy="296.70" r="1.45" fill="#b5363f"/>
<circle cx="80.60" cy="300.00" r="1.45" fill="#b5363f"/>
<circle cx="82.80" cy="302.20" r="1.45" fill="#b5363f"/>
<circle cx="90.00" cy="301.90" r="1.45" fill="#b5363f"/>
<circle cx="66.60" cy="302.50" r="1.45" fill="#b5363f"/>
<circle cx="90.80" cy="322.50" r="1.45" fill="#b5363f"/>
<rect x="92.60" y="293.70" width="3.0" height="3.0" fill="#324677"/>
<rect x="99.40" y="294.90" width="3.0" height="3.0" fill="#324677"/>
<rect x="96.50" y="298.50" width="3.0" height="3.0" fill="#324677"/>
<rect x="103.70" y="297.80" width="3.0" height="3.0" fill="#324677"/>
<rect x="84.50" y="303.50" width="3.0" height="3.0" fill="#324677"/>
<rect x="82.70" y="305.00" width="3.0" height="3.0" fill="#324677"/>
<rect x="69.00" y="305.70" width="3.0" height="3.0" fill="#324677"/>
<rect x="65.80" y="308.60" width="3.0" height="3.0" fill="#324677"/>
<rect x="82.50" y="308.60" width="3.0" height="3.0" fill="#324677"/>
<rect x="72.30" y="312.70" width="3.0" height="3.0" fill="#324677"/>
<rect x="78.70" y="314.50" width="3.0" height="3.0" fill="#324677"/>
<rect x="80.50" y="313.00" width="3.0" height="3.0" fill="#324677"/>
<rect x="85.30" y="310.50" width="3.0" height="3.0" fill="#324677"/>
<rect x="92.60" y="309.10" width="3.0" height="3.0" fill="#324677"/>
<rect x="92.90" y="311.50" width="3.0" height="3.0" fill="#324677"/>
<rect x="95.10" y="312.30" width="3.0" height="3.0" fill="#324677"/>
<rect x="108.10" y="302.80" width="3.0" height="3.0" fill="#324677"/>
<rect x="108.10" y="309.40" width="3.0" height="3.0" fill="#324677"/>
<rect x="108.80" y="310.80" width="3.0" height="3.0" fill="#324677"/>
<rect x="113.20" y="300.70" width="3.0" height="3.0" fill="#324677"/>
<rect x="114.60" y="302.80" width="3.0" height="3.0" fill="#324677"/>
<rect x="79.50" y="313.00" width="3.0" height="3.0" fill="#324677"/>
<rect x="121.10" y="295.30" width="3.0" height="3.0" fill="#324677"/>
<rect x="143.40" y="296.30" width="3.0" height="3.0" fill="#324677"/>
<rect x="136.00" y="299.30" width="3.0" height="3.0" fill="#324677"/>
<rect x="148.70" y="301.00" width="3.0" height="3.0" fill="#324677"/>
<rect x="120.00" y="302.50" width="3.0" height="3.0" fill="#324677"/>
<rect x="113.70" y="299.90" width="3.0" height="3.0" fill="#324677"/>
<rect x="114.70" y="302.50" width="3.0" height="3.0" fill="#324677"/>
<rect x="123.20" y="308.50" width="3.0" height="3.0" fill="#324677"/>
<rect x="128.10" y="311.00" width="3.0" height="3.0" fill="#324677"/>
<rect x="138.10" y="308.90" width="3.0" height="3.0" fill="#324677"/>
<rect x="99.90" y="293.50" width="3.0" height="3.0" fill="#324677"/>
<rect x="104.10" y="296.70" width="3.0" height="3.0" fill="#324677"/>
<rect x="108.40" y="302.10" width="3.0" height="3.0" fill="#324677"/>
<rect x="108.40" y="307.40" width="3.0" height="3.0" fill="#324677"/>
<rect x="108.40" y="310.50" width="3.0" height="3.0" fill="#324677"/>
<clipPath id="cE"><rect x="49.5" y="220" width="120" height="103"/></clipPath><g clip-path="url(#cE)">
<polyline points="55.20,283.22 57.57,284.06 59.93,284.88 62.30,285.70 64.66,286.49 67.03,287.26 69.39,288.02 71.75,288.74 74.12,289.44 76.49,290.11 78.85,290.75 81.22,291.35 83.58,291.92 85.95,292.46 88.31,292.97 90.68,293.46 93.04,293.91 95.41,294.35 97.77,294.76 100.14,295.16 102.50,295.55 104.87,295.92 107.23,296.27 109.59,296.62 111.96,296.96 114.33,297.30 116.69,297.62 119.06,297.94 121.42,298.26 123.79,298.57 126.15,298.88 128.52,299.18 130.88,299.49 133.25,299.79 135.61,300.08 137.98,300.38 140.34,300.67 142.71,300.96 145.07,301.25 147.44,301.54 149.80,301.82" fill="none" stroke="#a3a8b0" stroke-width="0.7"/>
<polyline points="55.20,293.18 57.57,293.55 59.93,293.94 62.30,294.33 64.66,294.75 67.03,295.19 69.39,295.64 71.75,296.13 74.12,296.64 76.49,297.18 78.85,297.75 81.22,298.36 83.58,299.00 85.95,299.67 88.31,300.37 90.68,301.09 93.04,301.85 95.41,302.62 97.77,303.42 100.14,304.23 102.50,305.05 104.87,305.89 107.23,306.75 109.59,307.61 111.96,308.48 114.33,309.35 116.69,310.24 119.06,311.13 121.42,312.02 123.79,312.92 126.15,313.82 128.52,314.73 130.88,315.63 133.25,316.54 135.61,317.46 137.98,318.37 140.34,319.29 142.71,320.21 145.07,321.13 147.44,322.05 149.80,322.98" fill="none" stroke="#a3a8b0" stroke-width="0.7"/>
</g>
<line x1="55.20" y1="288.20" x2="149.80" y2="312.40" stroke="#1e1e1e" stroke-width="1.1"/>
<text x="183.00" y="204.50" font-size="10.5" text-anchor="start" font-weight="bold" fill="#000" stroke="#000" stroke-width="0.08">F</text>
<text x="233.70" y="206.50" font-size="7.2" text-anchor="start" font-weight="normal" fill="#1a1a1a" textLength="38.6" lengthAdjust="spacingAndGlyphs">Without TM</text>
<line x1="218.60" y1="219.60" x2="218.60" y2="322.90" stroke="#1e1e1e" stroke-width="1.2"/>
<line x1="215.60" y1="221.50" x2="218.60" y2="221.50" stroke="#1e1e1e" stroke-width="1.2"/>
<text x="212.30" y="224.22" font-size="8.0" text-anchor="end" font-weight="normal" fill="#262626">3000</text>
<line x1="215.60" y1="255.50" x2="218.60" y2="255.50" stroke="#1e1e1e" stroke-width="1.2"/>
<text x="212.30" y="258.22" font-size="8.0" text-anchor="end" font-weight="normal" fill="#262626">2000</text>
<line x1="215.60" y1="289.20" x2="218.60" y2="289.20" stroke="#1e1e1e" stroke-width="1.2"/>
<text x="212.30" y="291.92" font-size="8.0" text-anchor="end" font-weight="normal" fill="#262626">1000</text>
<line x1="215.60" y1="322.90" x2="218.60" y2="322.90" stroke="#1e1e1e" stroke-width="1.2"/>
<text x="212.30" y="325.62" font-size="8.0" text-anchor="end" font-weight="normal" fill="#262626">0</text>
<line x1="218.60" y1="322.90" x2="284.70" y2="322.90" stroke="#1e1e1e" stroke-width="1.2"/>
<line x1="237.90" y1="322.90" x2="237.90" y2="325.90" stroke="#1e1e1e" stroke-width="1.2"/>
<line x1="266.30" y1="322.90" x2="266.30" y2="325.90" stroke="#1e1e1e" stroke-width="1.2"/>
<polyline points="238.10,255.70 238.10,223.00 266.40,223.00 266.40,228.80" fill="none" stroke="#1e1e1e" stroke-width="1.1"/>
<text x="252.25" y="219.00" font-size="7" text-anchor="middle" font-weight="normal" fill="#1a1a1a" stroke="#1a1a1a" stroke-width="0.08">ns</text>
<rect x="235.30" y="260.80" width="3.0" height="3.0" fill="#324677"/>
<rect x="237.40" y="261.70" width="3.0" height="3.0" fill="#324677"/>
<rect x="237.70" y="265.00" width="3.0" height="3.0" fill="#324677"/>
<rect x="232.80" y="268.10" width="3.0" height="3.0" fill="#324677"/>
<rect x="238.30" y="269.90" width="3.0" height="3.0" fill="#324677"/>
<rect x="240.90" y="270.50" width="3.0" height="3.0" fill="#324677"/>
<rect x="232.80" y="272.30" width="3.0" height="3.0" fill="#324677"/>
<rect x="236.10" y="272.70" width="3.0" height="3.0" fill="#324677"/>
<rect x="238.70" y="275.30" width="3.0" height="3.0" fill="#324677"/>
<rect x="241.50" y="274.20" width="3.0" height="3.0" fill="#324677"/>
<rect x="232.80" y="279.00" width="3.0" height="3.0" fill="#324677"/>
<rect x="235.50" y="278.40" width="3.0" height="3.0" fill="#324677"/>
<rect x="240.50" y="280.00" width="3.0" height="3.0" fill="#324677"/>
<rect x="231.50" y="282.50" width="3.0" height="3.0" fill="#324677"/>
<rect x="236.50" y="283.00" width="3.0" height="3.0" fill="#324677"/>
<rect x="242.00" y="282.50" width="3.0" height="3.0" fill="#324677"/>
<rect x="228.00" y="286.30" width="3.0" height="3.0" fill="#324677"/>
<rect x="231.10" y="286.80" width="3.0" height="3.0" fill="#324677"/>
<rect x="234.10" y="286.10" width="3.0" height="3.0" fill="#324677"/>
<rect x="237.10" y="286.80" width="3.0" height="3.0" fill="#324677"/>
<rect x="240.10" y="286.10" width="3.0" height="3.0" fill="#324677"/>
<rect x="243.10" y="286.80" width="3.0" height="3.0" fill="#324677"/>
<rect x="245.70" y="286.30" width="3.0" height="3.0" fill="#324677"/>
<rect x="229.50" y="289.50" width="3.0" height="3.0" fill="#324677"/>
<rect x="232.70" y="289.10" width="3.0" height="3.0" fill="#324677"/>
<rect x="238.50" y="289.70" width="3.0" height="3.0" fill="#324677"/>
<rect x="241.90" y="289.30" width="3.0" height="3.0" fill="#324677"/>
<rect x="244.70" y="289.10" width="3.0" height="3.0" fill="#324677"/>
<rect x="231.10" y="292.50" width="3.0" height="3.0" fill="#324677"/>
<rect x="235.00" y="292.10" width="3.0" height="3.0" fill="#324677"/>
<rect x="238.70" y="292.70" width="3.0" height="3.0" fill="#324677"/>
<rect x="242.50" y="292.10" width="3.0" height="3.0" fill="#324677"/>
<rect x="232.70" y="295.50" width="3.0" height="3.0" fill="#324677"/>
<rect x="236.70" y="295.10" width="3.0" height="3.0" fill="#324677"/>
<rect x="240.50" y="295.70" width="3.0" height="3.0" fill="#324677"/>
<rect x="234.50" y="298.50" width="3.0" height="3.0" fill="#324677"/>
<rect x="238.50" y="298.10" width="3.0" height="3.0" fill="#324677"/>
<rect x="235.90" y="303.30" width="3.0" height="3.0" fill="#324677"/>
<rect x="237.10" y="305.70" width="3.0" height="3.0" fill="#324677"/>
<rect x="236.50" y="309.60" width="3.0" height="3.0" fill="#324677"/>
<line x1="228.70" y1="286.80" x2="247.50" y2="286.80" stroke="#1e1e1e" stroke-width="1"/>
<circle cx="258.80" cy="270.90" r="1.45" fill="#b5363f"/>
<circle cx="262.90" cy="270.90" r="1.45" fill="#b5363f"/>
<circle cx="266.80" cy="270.90" r="1.45" fill="#b5363f"/>
<circle cx="271.10" cy="270.90" r="1.45" fill="#b5363f"/>
<circle cx="274.80" cy="270.90" r="1.45" fill="#b5363f"/>
<circle cx="262.90" cy="276.00" r="1.45" fill="#b5363f"/>
<circle cx="270.80" cy="276.00" r="1.45" fill="#b5363f"/>
<circle cx="266.80" cy="279.10" r="1.45" fill="#b5363f"/>
<circle cx="266.80" cy="282.80" r="1.45" fill="#b5363f"/>
<circle cx="266.80" cy="285.90" r="1.45" fill="#b5363f"/>
<circle cx="271.10" cy="286.90" r="1.45" fill="#b5363f"/>
<circle cx="262.90" cy="289.60" r="1.45" fill="#b5363f"/>
<circle cx="258.80" cy="291.50" r="1.45" fill="#b5363f"/>
<circle cx="262.90" cy="293.10" r="1.45" fill="#b5363f"/>
<circle cx="266.80" cy="292.30" r="1.45" fill="#b5363f"/>
<circle cx="274.80" cy="290.60" r="1.45" fill="#b5363f"/>
<circle cx="270.50" cy="294.60" r="1.45" fill="#b5363f"/>
<circle cx="274.80" cy="294.60" r="1.45" fill="#b5363f"/>
<circle cx="262.90" cy="296.80" r="1.45" fill="#b5363f"/>
<circle cx="266.80" cy="297.00" r="1.45" fill="#b5363f"/>
<circle cx="262.90" cy="300.10" r="1.45" fill="#b5363f"/>
<circle cx="266.80" cy="299.30" r="1.45" fill="#b5363f"/>
<circle cx="270.80" cy="300.10" r="1.45" fill="#b5363f"/>
<circle cx="266.80" cy="302.00" r="1.45" fill="#b5363f"/>
<circle cx="265.00" cy="307.50" r="1.45" fill="#b5363f"/>
<circle cx="269.00" cy="310.00" r="1.45" fill="#b5363f"/>
<circle cx="266.80" cy="319.50" r="1.45" fill="#b5363f"/>
<circle cx="266.40" cy="235.60" r="1.45" fill="#b5363f"/>
<line x1="257.20" y1="287.20" x2="276.40" y2="287.20" stroke="#1e1e1e" stroke-width="1"/>
<line x1="266.80" y1="287.20" x2="266.80" y2="270.50" stroke="#1e1e1e" stroke-width="1"/>
<line x1="262.80" y1="270.50" x2="270.80" y2="270.50" stroke="#1e1e1e" stroke-width="1"/>
<line x1="266.80" y1="287.20" x2="266.80" y2="303.80" stroke="#1e1e1e" stroke-width="1"/>
<line x1="262.80" y1="303.80" x2="270.80" y2="303.80" stroke="#1e1e1e" stroke-width="1"/>
<text x="189.60" y="266.30" font-size="8.19" text-anchor="middle" font-weight="normal" fill="#1a1a1a" stroke="#1a1a1a" stroke-width="0.2" transform="rotate(-90 189.60 266.30)" textLength="26.5" lengthAdjust="spacingAndGlyphs">ETP (nM)</text>
<text x="240.70" y="331.80" font-size="7.6" text-anchor="end" font-weight="normal" fill="#1a1a1a" stroke="#1a1a1a" stroke-width="0.08" transform="rotate(-45 240.70 331.80)" textLength="25.0" lengthAdjust="spacingAndGlyphs">Control</text>
<text x="269.00" y="331.80" font-size="7.6" text-anchor="end" font-weight="normal" fill="#1a1a1a" stroke="#1a1a1a" stroke-width="0.08" transform="rotate(-45 269.00 331.80)">COVID-19</text>
<text x="296.80" y="204.50" font-size="10.5" text-anchor="start" font-weight="bold" fill="#000" stroke="#000" stroke-width="0.08">G</text>
<text x="352.40" y="206.50" font-size="7.2" text-anchor="start" font-weight="normal" fill="#1a1a1a" textLength="28.1" lengthAdjust="spacingAndGlyphs">With TM</text>
<line x1="332.40" y1="215.90" x2="332.40" y2="322.90" stroke="#1e1e1e" stroke-width="1.2"/>
<line x1="329.40" y1="218.00" x2="332.40" y2="218.00" stroke="#1e1e1e" stroke-width="1.2"/>
<text x="326.10" y="220.72" font-size="8.0" text-anchor="end" font-weight="normal" fill="#262626">1500</text>
<line x1="329.40" y1="253.00" x2="332.40" y2="253.00" stroke="#1e1e1e" stroke-width="1.2"/>
<text x="326.10" y="255.72" font-size="8.0" text-anchor="end" font-weight="normal" fill="#262626">1000</text>
<line x1="329.40" y1="288.30" x2="332.40" y2="288.30" stroke="#1e1e1e" stroke-width="1.2"/>
<text x="326.10" y="291.02" font-size="8.0" text-anchor="end" font-weight="normal" fill="#262626">500</text>
<line x1="329.40" y1="322.90" x2="332.40" y2="322.90" stroke="#1e1e1e" stroke-width="1.2"/>
<text x="326.10" y="325.62" font-size="8.0" text-anchor="end" font-weight="normal" fill="#262626">0</text>
<line x1="332.40" y1="322.90" x2="399.00" y2="322.90" stroke="#1e1e1e" stroke-width="1.2"/>
<line x1="351.10" y1="322.90" x2="351.10" y2="325.90" stroke="#1e1e1e" stroke-width="1.2"/>
<line x1="379.50" y1="322.90" x2="379.50" y2="325.90" stroke="#1e1e1e" stroke-width="1.2"/>
<polyline points="351.10,228.20 351.10,222.70 379.50,222.70 379.50,229.80" fill="none" stroke="#1e1e1e" stroke-width="1.1"/>
<text x="365.30" y="222.50" font-size="7" text-anchor="middle" font-weight="normal" fill="#1a1a1a" stroke="#1a1a1a" stroke-width="0.08">*</text>
<rect x="349.40" y="233.50" width="3.0" height="3.0" fill="#324677"/>
<rect x="349.40" y="241.50" width="3.0" height="3.0" fill="#324677"/>
<rect x="349.40" y="249.90" width="3.0" height="3.0" fill="#324677"/>
<rect x="349.40" y="255.10" width="3.0" height="3.0" fill="#324677"/>
<rect x="349.60" y="289.90" width="3.0" height="3.0" fill="#324677"/>
<rect x="349.60" y="295.70" width="3.0" height="3.0" fill="#324677"/>
<rect x="350.50" y="298.40" width="3.0" height="3.0" fill="#324677"/>
<rect x="347.50" y="307.60" width="3.0" height="3.0" fill="#324677"/>
<rect x="351.50" y="307.60" width="3.0" height="3.0" fill="#324677"/>
<rect x="351.00" y="309.80" width="3.0" height="3.0" fill="#324677"/>
<rect x="354.00" y="311.00" width="3.0" height="3.0" fill="#324677"/>
<rect x="344.00" y="312.00" width="3.0" height="3.0" fill="#324677"/>
<rect x="347.30" y="311.50" width="3.0" height="3.0" fill="#324677"/>
<rect x="351.10" y="312.70" width="3.0" height="3.0" fill="#324677"/>
<rect x="354.50" y="312.10" width="3.0" height="3.0" fill="#324677"/>
<rect x="357.70" y="313.10" width="3.0" height="3.0" fill="#324677"/>
<rect x="341.70" y="315.10" width="3.0" height="3.0" fill="#324677"/>
<rect x="345.00" y="315.50" width="3.0" height="3.0" fill="#324677"/>
<rect x="348.50" y="314.90" width="3.0" height="3.0" fill="#324677"/>
<rect x="351.90" y="315.70" width="3.0" height="3.0" fill="#324677"/>
<rect x="355.30" y="315.10" width="3.0" height="3.0" fill="#324677"/>
<rect x="358.50" y="315.70" width="3.0" height="3.0" fill="#324677"/>
<rect x="341.10" y="318.30" width="3.0" height="3.0" fill="#324677"/>
<rect x="344.30" y="318.70" width="3.0" height="3.0" fill="#324677"/>
<rect x="347.70" y="318.10" width="3.0" height="3.0" fill="#324677"/>
<rect x="351.10" y="318.80" width="3.0" height="3.0" fill="#324677"/>
<rect x="354.50" y="318.30" width="3.0" height="3.0" fill="#324677"/>
<rect x="357.90" y="318.80" width="3.0" height="3.0" fill="#324677"/>
<rect x="343.00" y="320.50" width="3.0" height="3.0" fill="#324677"/>
<rect x="346.50" y="320.50" width="3.0" height="3.0" fill="#324677"/>
<rect x="353.00" y="320.50" width="3.0" height="3.0" fill="#324677"/>
<rect x="356.50" y="320.50" width="3.0" height="3.0" fill="#324677"/>
<line x1="341.30" y1="306.10" x2="360.90" y2="306.10" stroke="#1e1e1e" stroke-width="1"/>
<line x1="351.10" y1="306.10" x2="351.10" y2="282.70" stroke="#1e1e1e" stroke-width="1"/>
<line x1="346.50" y1="282.70" x2="355.70" y2="282.70" stroke="#1e1e1e" stroke-width="1"/>
<line x1="351.10" y1="306.10" x2="351.10" y2="322.50" stroke="#1e1e1e" stroke-width="1.2"/>
<circle cx="379.50" cy="237.50" r="1.45" fill="#b5363f"/>
<circle cx="379.50" cy="273.80" r="1.45" fill="#b5363f"/>
<circle cx="379.50" cy="281.80" r="1.45" fill="#b5363f"/>
<circle cx="379.50" cy="289.90" r="1.45" fill="#b5363f"/>
<circle cx="379.50" cy="294.00" r="1.45" fill="#b5363f"/>
<circle cx="375.40" cy="298.50" r="1.45" fill="#b5363f"/>
<circle cx="383.60" cy="298.50" r="1.45" fill="#b5363f"/>
<circle cx="379.50" cy="299.90" r="1.45" fill="#b5363f"/>
<circle cx="375.40" cy="305.00" r="1.45" fill="#b5363f"/>
<circle cx="383.60" cy="305.00" r="1.45" fill="#b5363f"/>
<circle cx="379.50" cy="303.00" r="1.45" fill="#b5363f"/>
<circle cx="371.30" cy="307.70" r="1.45" fill="#b5363f"/>
<circle cx="387.50" cy="307.70" r="1.45" fill="#b5363f"/>
<circle cx="375.40" cy="311.30" r="1.45" fill="#b5363f"/>
<circle cx="383.60" cy="311.30" r="1.45" fill="#b5363f"/>
<circle cx="371.30" cy="314.40" r="1.45" fill="#b5363f"/>
<circle cx="379.50" cy="314.40" r="1.45" fill="#b5363f"/>
<circle cx="387.50" cy="314.40" r="1.45" fill="#b5363f"/>
<circle cx="375.40" cy="318.70" r="1.45" fill="#b5363f"/>
<circle cx="383.60" cy="318.70" r="1.45" fill="#b5363f"/>
<circle cx="371.30" cy="321.50" r="1.45" fill="#b5363f"/>
<circle cx="379.50" cy="321.50" r="1.45" fill="#b5363f"/>
<circle cx="387.50" cy="321.50" r="1.45" fill="#b5363f"/>
<line x1="370.00" y1="303.20" x2="389.00" y2="303.20" stroke="#1e1e1e" stroke-width="1"/>
<line x1="379.50" y1="303.20" x2="379.50" y2="285.10" stroke="#1e1e1e" stroke-width="1"/>
<line x1="375.10" y1="285.10" x2="383.90" y2="285.10" stroke="#1e1e1e" stroke-width="1"/>
<line x1="379.50" y1="303.20" x2="379.50" y2="322.50" stroke="#1e1e1e" stroke-width="1.2"/>
<text x="302.80" y="271.00" font-size="8.19" text-anchor="middle" font-weight="normal" fill="#1a1a1a" stroke="#1a1a1a" stroke-width="0.2" transform="rotate(-90 302.80 271.00)" textLength="26.5" lengthAdjust="spacingAndGlyphs">ETP (nM)</text>
<text x="353.70" y="331.50" font-size="7.6" text-anchor="end" font-weight="normal" fill="#1a1a1a" stroke="#1a1a1a" stroke-width="0.08" transform="rotate(-45 353.70 331.50)" textLength="25.0" lengthAdjust="spacingAndGlyphs">Control</text>
<text x="382.10" y="331.50" font-size="7.6" text-anchor="end" font-weight="normal" fill="#1a1a1a" stroke="#1a1a1a" stroke-width="0.08" transform="rotate(-45 382.10 331.50)">COVID-19</text>
<text x="409.60" y="204.50" font-size="10.5" text-anchor="start" font-weight="bold" fill="#000" stroke="#000" stroke-width="0.08">H</text>
<line x1="438.50" y1="208.20" x2="438.50" y2="322.90" stroke="#1e1e1e" stroke-width="1.2"/>
<line x1="435.50" y1="211.50" x2="438.50" y2="211.50" stroke="#1e1e1e" stroke-width="1.2"/>
<text x="432.20" y="214.22" font-size="8.0" text-anchor="end" font-weight="normal" fill="#262626">1.0</text>
<line x1="435.50" y1="233.80" x2="438.50" y2="233.80" stroke="#1e1e1e" stroke-width="1.2"/>
<text x="432.20" y="236.52" font-size="8.0" text-anchor="end" font-weight="normal" fill="#262626">0.8</text>
<line x1="435.50" y1="256.10" x2="438.50" y2="256.10" stroke="#1e1e1e" stroke-width="1.2"/>
<text x="432.20" y="258.82" font-size="8.0" text-anchor="end" font-weight="normal" fill="#262626">0.6</text>
<line x1="435.50" y1="278.40" x2="438.50" y2="278.40" stroke="#1e1e1e" stroke-width="1.2"/>
<text x="432.20" y="281.12" font-size="8.0" text-anchor="end" font-weight="normal" fill="#262626">0.4</text>
<line x1="435.50" y1="300.60" x2="438.50" y2="300.60" stroke="#1e1e1e" stroke-width="1.2"/>
<text x="432.20" y="303.32" font-size="8.0" text-anchor="end" font-weight="normal" fill="#262626">0.2</text>
<line x1="435.50" y1="322.90" x2="438.50" y2="322.90" stroke="#1e1e1e" stroke-width="1.2"/>
<text x="432.20" y="325.62" font-size="8.0" text-anchor="end" font-weight="normal" fill="#262626">0.0</text>
<line x1="438.50" y1="322.90" x2="506.00" y2="322.90" stroke="#1e1e1e" stroke-width="1.2"/>
<line x1="457.50" y1="322.90" x2="457.50" y2="325.90" stroke="#1e1e1e" stroke-width="1.2"/>
<line x1="486.60" y1="322.90" x2="486.60" y2="325.90" stroke="#1e1e1e" stroke-width="1.2"/>
<polyline points="457.50,279.50 457.50,220.50 486.60,220.50 486.60,226.70" fill="none" stroke="#1e1e1e" stroke-width="1.1"/>
<text x="472.05" y="219.00" font-size="7" text-anchor="middle" font-weight="normal" fill="#1a1a1a" stroke="#1a1a1a" stroke-width="0.08">**</text>
<rect x="455.80" y="284.90" width="3.0" height="3.0" fill="#324677"/>
<rect x="457.50" y="287.50" width="3.0" height="3.0" fill="#324677"/>
<rect x="455.80" y="294.30" width="3.0" height="3.0" fill="#324677"/>
<rect x="457.50" y="295.70" width="3.0" height="3.0" fill="#324677"/>
<rect x="452.70" y="304.10" width="3.0" height="3.0" fill="#324677"/>
<rect x="456.10" y="303.70" width="3.0" height="3.0" fill="#324677"/>
<rect x="459.50" y="304.30" width="3.0" height="3.0" fill="#324677"/>
<rect x="450.90" y="307.10" width="3.0" height="3.0" fill="#324677"/>
<rect x="454.30" y="306.70" width="3.0" height="3.0" fill="#324677"/>
<rect x="457.70" y="307.30" width="3.0" height="3.0" fill="#324677"/>
<rect x="461.10" y="306.90" width="3.0" height="3.0" fill="#324677"/>
<rect x="449.10" y="310.10" width="3.0" height="3.0" fill="#324677"/>
<rect x="452.50" y="309.70" width="3.0" height="3.0" fill="#324677"/>
<rect x="455.90" y="310.30" width="3.0" height="3.0" fill="#324677"/>
<rect x="459.30" y="309.70" width="3.0" height="3.0" fill="#324677"/>
<rect x="462.70" y="310.30" width="3.0" height="3.0" fill="#324677"/>
<rect x="447.70" y="313.10" width="3.0" height="3.0" fill="#324677"/>
<rect x="451.10" y="313.50" width="3.0" height="3.0" fill="#324677"/>
<rect x="454.50" y="312.90" width="3.0" height="3.0" fill="#324677"/>
<rect x="457.90" y="313.50" width="3.0" height="3.0" fill="#324677"/>
<rect x="461.30" y="312.90" width="3.0" height="3.0" fill="#324677"/>
<rect x="464.50" y="313.50" width="3.0" height="3.0" fill="#324677"/>
<rect x="448.10" y="316.30" width="3.0" height="3.0" fill="#324677"/>
<rect x="451.50" y="315.90" width="3.0" height="3.0" fill="#324677"/>
<rect x="454.90" y="316.50" width="3.0" height="3.0" fill="#324677"/>
<rect x="458.30" y="315.90" width="3.0" height="3.0" fill="#324677"/>
<rect x="461.70" y="316.50" width="3.0" height="3.0" fill="#324677"/>
<rect x="464.70" y="316.10" width="3.0" height="3.0" fill="#324677"/>
<rect x="449.50" y="319.10" width="3.0" height="3.0" fill="#324677"/>
<rect x="452.90" y="319.50" width="3.0" height="3.0" fill="#324677"/>
<rect x="456.30" y="318.90" width="3.0" height="3.0" fill="#324677"/>
<rect x="459.70" y="319.50" width="3.0" height="3.0" fill="#324677"/>
<rect x="463.10" y="319.10" width="3.0" height="3.0" fill="#324677"/>
<line x1="448.30" y1="311.80" x2="466.70" y2="311.80" stroke="#1e1e1e" stroke-width="1"/>
<line x1="457.50" y1="311.80" x2="457.50" y2="303.00" stroke="#1e1e1e" stroke-width="1"/>
<line x1="453.10" y1="303.00" x2="461.90" y2="303.00" stroke="#1e1e1e" stroke-width="1"/>
<line x1="457.50" y1="311.80" x2="457.50" y2="322.50" stroke="#1e1e1e" stroke-width="1.2"/>
<circle cx="486.40" cy="233.50" r="1.45" fill="#b5363f"/>
<circle cx="486.40" cy="245.80" r="1.45" fill="#b5363f"/>
<circle cx="486.40" cy="259.10" r="1.45" fill="#b5363f"/>
<circle cx="483.90" cy="277.30" r="1.45" fill="#b5363f"/>
<circle cx="489.30" cy="278.20" r="1.45" fill="#b5363f"/>
<circle cx="489.30" cy="283.20" r="1.45" fill="#b5363f"/>
<circle cx="494.70" cy="285.40" r="1.45" fill="#b5363f"/>
<circle cx="483.90" cy="288.40" r="1.45" fill="#b5363f"/>
<circle cx="489.30" cy="288.40" r="1.45" fill="#b5363f"/>
<circle cx="489.30" cy="292.40" r="1.45" fill="#b5363f"/>
<circle cx="494.70" cy="292.40" r="1.45" fill="#b5363f"/>
<circle cx="483.90" cy="295.80" r="1.45" fill="#b5363f"/>
<circle cx="478.50" cy="307.00" r="1.45" fill="#b5363f"/>
<circle cx="489.30" cy="308.60" r="1.45" fill="#b5363f"/>
<circle cx="494.70" cy="308.60" r="1.45" fill="#b5363f"/>
<circle cx="483.90" cy="309.70" r="1.45" fill="#b5363f"/>
<circle cx="478.50" cy="311.40" r="1.45" fill="#b5363f"/>
<circle cx="494.70" cy="312.70" r="1.45" fill="#b5363f"/>
<circle cx="478.50" cy="315.40" r="1.45" fill="#b5363f"/>
<circle cx="489.30" cy="314.10" r="1.45" fill="#b5363f"/>
<circle cx="483.90" cy="318.10" r="1.45" fill="#b5363f"/>
<circle cx="489.30" cy="319.20" r="1.45" fill="#b5363f"/>
<circle cx="494.70" cy="319.20" r="1.45" fill="#b5363f"/>
<circle cx="478.50" cy="319.70" r="1.45" fill="#b5363f"/>
<line x1="477.30" y1="294.30" x2="495.90" y2="294.30" stroke="#1e1e1e" stroke-width="1"/>
<line x1="486.60" y1="294.30" x2="486.60" y2="270.70" stroke="#1e1e1e" stroke-width="1"/>
<line x1="481.90" y1="270.70" x2="491.30" y2="270.70" stroke="#1e1e1e" stroke-width="1"/>
<line x1="486.60" y1="294.30" x2="486.60" y2="317.30" stroke="#1e1e1e" stroke-width="1"/>
<line x1="481.90" y1="317.30" x2="491.30" y2="317.30" stroke="#1e1e1e" stroke-width="1"/>
<text x="416.00" y="271.20" font-size="8.19" text-anchor="middle" font-weight="normal" fill="#1a1a1a" stroke="#1a1a1a" stroke-width="0.2" transform="rotate(-90 416.00 271.20)" textLength="60.8" lengthAdjust="spacingAndGlyphs">ETP <tspan font-size="6.5">ratio</tspan> (+TM/&#8211;TM)</text>
<text x="460.10" y="331.50" font-size="7.6" text-anchor="end" font-weight="normal" fill="#1a1a1a" stroke="#1a1a1a" stroke-width="0.08" transform="rotate(-45 460.10 331.50)" textLength="25.0" lengthAdjust="spacingAndGlyphs">Control</text>
<text x="489.20" y="331.50" font-size="7.6" text-anchor="end" font-weight="normal" fill="#1a1a1a" stroke="#1a1a1a" stroke-width="0.08" transform="rotate(-45 489.20 331.50)">COVID-19</text>
<text x="9.90" y="383.10" font-size="10.5" text-anchor="start" font-weight="bold" fill="#000" stroke="#000" stroke-width="0.08">I</text>
<text x="75.30" y="385.40" font-size="7.2" text-anchor="start" font-weight="normal" fill="#1a1a1a" textLength="38" lengthAdjust="spacingAndGlyphs">Without TM</text>
<line x1="43.20" y1="393.80" x2="43.20" y2="485.00" stroke="#1e1e1e" stroke-width="1.2"/>
<line x1="40.20" y1="395.40" x2="43.20" y2="395.40" stroke="#1e1e1e" stroke-width="1.2"/>
<text x="36.90" y="398.12" font-size="8.0" text-anchor="end" font-weight="normal" fill="#262626">3000</text>
<line x1="40.20" y1="425.20" x2="43.20" y2="425.20" stroke="#1e1e1e" stroke-width="1.2"/>
<text x="36.90" y="427.92" font-size="8.0" text-anchor="end" font-weight="normal" fill="#262626">2000</text>
<line x1="40.20" y1="455.10" x2="43.20" y2="455.10" stroke="#1e1e1e" stroke-width="1.2"/>
<text x="36.90" y="457.82" font-size="8.0" text-anchor="end" font-weight="normal" fill="#262626">1000</text>
<line x1="40.20" y1="485.00" x2="43.20" y2="485.00" stroke="#1e1e1e" stroke-width="1.2"/>
<text x="36.90" y="487.72" font-size="8.0" text-anchor="end" font-weight="normal" fill="#262626">0</text>
<line x1="43.20" y1="485.00" x2="146.00" y2="485.00" stroke="#1e1e1e" stroke-width="1.2"/>
<line x1="43.20" y1="485.00" x2="43.20" y2="487.60" stroke="#1e1e1e" stroke-width="1.2"/>
<line x1="68.00" y1="485.00" x2="68.00" y2="487.60" stroke="#1e1e1e" stroke-width="1.2"/>
<line x1="92.70" y1="485.00" x2="92.70" y2="487.60" stroke="#1e1e1e" stroke-width="1.2"/>
<line x1="117.40" y1="485.00" x2="117.40" y2="487.60" stroke="#1e1e1e" stroke-width="1.2"/>
<line x1="142.10" y1="485.00" x2="142.10" y2="487.60" stroke="#1e1e1e" stroke-width="1.2"/>
<text x="43.50" y="497.40" font-size="7.6" text-anchor="middle" font-weight="normal" fill="#262626">0</text>
<text x="68.20" y="497.40" font-size="7.6" text-anchor="middle" font-weight="normal" fill="#262626">50</text>
<text x="92.80" y="497.40" font-size="7.6" text-anchor="middle" font-weight="normal" fill="#262626">100</text>
<text x="117.50" y="497.40" font-size="7.6" text-anchor="middle" font-weight="normal" fill="#262626">150</text>
<text x="142.20" y="497.40" font-size="7.6" text-anchor="middle" font-weight="normal" fill="#262626">200</text>
<text x="92.30" y="509.00" font-size="8.4" text-anchor="middle" font-weight="normal" fill="#1a1a1a" stroke="#1a1a1a" stroke-width="0.2" textLength="23.8" lengthAdjust="spacingAndGlyphs">FPS (%)</text>
<text x="13.50" y="440.70" font-size="8.61" text-anchor="middle" font-weight="normal" fill="#1a1a1a" stroke="#1a1a1a" stroke-width="0.2" transform="rotate(-90 13.50 440.70)" textLength="52.7" lengthAdjust="spacingAndGlyphs">ETP &#8211;TM (nM.min)</text>
<text x="96.20" y="409.10" font-size="7" text-anchor="start" font-weight="normal" fill="#1a1a1a" stroke="#1a1a1a" stroke-width="0.08" textLength="36.2" lengthAdjust="spacingAndGlyphs"><tspan font-style="italic">r</tspan> = &#8722;0.115</text>
<text x="96.70" y="420.30" font-size="7" text-anchor="start" font-weight="normal" fill="#1a1a1a" stroke="#1a1a1a" stroke-width="0.08" textLength="24.3" lengthAdjust="spacingAndGlyphs"><tspan font-style="italic">P</tspan> = .36</text>
<circle cx="75.60" cy="408.10" r="1.45" fill="#b5363f"/>
<circle cx="49.60" cy="438.50" r="1.45" fill="#b5363f"/>
<circle cx="60.20" cy="439.00" r="1.45" fill="#b5363f"/>
<circle cx="66.90" cy="440.40" r="1.45" fill="#b5363f"/>
<circle cx="68.80" cy="441.90" r="1.45" fill="#b5363f"/>
<circle cx="72.30" cy="443.30" r="1.45" fill="#b5363f"/>
<circle cx="86.20" cy="439.40" r="1.45" fill="#b5363f"/>
<circle cx="55.00" cy="443.80" r="1.45" fill="#b5363f"/>
<circle cx="57.70" cy="446.70" r="1.45" fill="#b5363f"/>
<circle cx="66.90" cy="450.40" r="1.45" fill="#b5363f"/>
<circle cx="56.90" cy="453.50" r="1.45" fill="#b5363f"/>
<circle cx="65.00" cy="457.30" r="1.45" fill="#b5363f"/>
<circle cx="60.20" cy="461.90" r="1.45" fill="#b5363f"/>
<circle cx="64.00" cy="458.00" r="1.45" fill="#b5363f"/>
<circle cx="69.80" cy="459.20" r="1.45" fill="#b5363f"/>
<circle cx="75.60" cy="457.30" r="1.45" fill="#b5363f"/>
<circle cx="76.50" cy="458.70" r="1.45" fill="#b5363f"/>
<circle cx="81.30" cy="459.20" r="1.45" fill="#b5363f"/>
<circle cx="74.20" cy="463.50" r="1.45" fill="#b5363f"/>
<circle cx="74.60" cy="465.40" r="1.45" fill="#b5363f"/>
<circle cx="47.70" cy="467.30" r="1.45" fill="#b5363f"/>
<circle cx="49.60" cy="465.40" r="1.45" fill="#b5363f"/>
<circle cx="63.10" cy="471.50" r="1.45" fill="#b5363f"/>
<circle cx="76.50" cy="473.10" r="1.45" fill="#b5363f"/>
<circle cx="78.10" cy="481.70" r="1.45" fill="#b5363f"/>
<circle cx="90.00" cy="455.80" r="1.45" fill="#b5363f"/>
<circle cx="80.40" cy="460.60" r="1.45" fill="#b5363f"/>
<rect x="56.80" y="429.80" width="3.0" height="3.0" fill="#324677"/>
<rect x="92.90" y="430.80" width="3.0" height="3.0" fill="#324677"/>
<rect x="67.30" y="433.70" width="3.0" height="3.0" fill="#324677"/>
<rect x="79.50" y="436.40" width="3.0" height="3.0" fill="#324677"/>
<rect x="70.20" y="438.50" width="3.0" height="3.0" fill="#324677"/>
<rect x="92.30" y="439.80" width="3.0" height="3.0" fill="#324677"/>
<rect x="127.00" y="439.50" width="3.0" height="3.0" fill="#324677"/>
<rect x="109.70" y="442.70" width="3.0" height="3.0" fill="#324677"/>
<rect x="67.90" y="442.70" width="3.0" height="3.0" fill="#324677"/>
<rect x="79.50" y="444.10" width="3.0" height="3.0" fill="#324677"/>
<rect x="81.20" y="447.00" width="3.0" height="3.0" fill="#324677"/>
<rect x="85.20" y="447.50" width="3.0" height="3.0" fill="#324677"/>
<rect x="88.90" y="446.60" width="3.0" height="3.0" fill="#324677"/>
<rect x="67.30" y="450.80" width="3.0" height="3.0" fill="#324677"/>
<rect x="93.30" y="452.70" width="3.0" height="3.0" fill="#324677"/>
<rect x="96.20" y="453.30" width="3.0" height="3.0" fill="#324677"/>
<rect x="96.80" y="455.20" width="3.0" height="3.0" fill="#324677"/>
<rect x="102.90" y="452.70" width="3.0" height="3.0" fill="#324677"/>
<rect x="104.80" y="452.70" width="3.0" height="3.0" fill="#324677"/>
<rect x="58.70" y="457.70" width="3.0" height="3.0" fill="#324677"/>
<rect x="61.60" y="457.20" width="3.0" height="3.0" fill="#324677"/>
<rect x="71.20" y="455.80" width="3.0" height="3.0" fill="#324677"/>
<rect x="82.70" y="462.00" width="3.0" height="3.0" fill="#324677"/>
<rect x="85.60" y="460.40" width="3.0" height="3.0" fill="#324677"/>
<rect x="98.50" y="462.90" width="3.0" height="3.0" fill="#324677"/>
<rect x="118.30" y="462.30" width="3.0" height="3.0" fill="#324677"/>
<rect x="122.50" y="464.80" width="3.0" height="3.0" fill="#324677"/>
<rect x="116.40" y="468.10" width="3.0" height="3.0" fill="#324677"/>
<rect x="103.90" y="473.10" width="3.0" height="3.0" fill="#324677"/>
<rect x="90.40" y="453.30" width="3.0" height="3.0" fill="#324677"/>
<rect x="93.90" y="454.30" width="3.0" height="3.0" fill="#324677"/>
<polyline points="47.70,444.46 49.71,444.84 51.72,445.22 53.73,445.59 55.74,445.95 57.75,446.30 59.76,446.64 61.77,446.97 63.78,447.28 65.79,447.58 67.80,447.86 69.81,448.12 71.82,448.37 73.83,448.60 75.84,448.80 77.85,448.99 79.86,449.15 81.87,449.29 83.88,449.42 85.89,449.52 87.90,449.60 89.91,449.67 91.92,449.71 93.93,449.75 95.94,449.77 97.95,449.78 99.96,449.77 101.97,449.76 103.98,449.74 105.99,449.70 108.00,449.67 110.01,449.62 112.02,449.57 114.03,449.51 116.04,449.45 118.05,449.39 120.06,449.32 122.07,449.24 124.08,449.17 126.09,449.09 128.10,449.01" fill="none" stroke="#a3a8b0" stroke-width="0.7"/>
<polyline points="47.70,456.34 49.71,456.30 51.72,456.27 53.73,456.25 55.74,456.23 57.75,456.22 59.76,456.23 61.77,456.25 63.78,456.28 65.79,456.33 67.80,456.39 69.81,456.47 71.82,456.57 73.83,456.69 75.84,456.83 77.85,456.99 79.86,457.17 81.87,457.37 83.88,457.59 85.89,457.84 87.90,458.10 89.91,458.38 91.92,458.68 93.93,458.99 95.94,459.31 97.95,459.65 99.96,460.00 101.97,460.36 103.98,460.72 105.99,461.10 108.00,461.48 110.01,461.87 112.02,462.27 114.03,462.67 116.04,463.08 118.05,463.49 120.06,463.90 122.07,464.32 124.08,464.74 126.09,465.17 128.10,465.59" fill="none" stroke="#a3a8b0" stroke-width="0.7"/>
<line x1="47.70" y1="450.40" x2="128.10" y2="457.30" stroke="#1e1e1e" stroke-width="1.1"/>
<text x="185.80" y="382.80" font-size="10.5" text-anchor="start" font-weight="bold" fill="#000" stroke="#000" stroke-width="0.08">J</text>
<text x="268.20" y="385.40" font-size="7.2" text-anchor="start" font-weight="normal" fill="#1a1a1a" textLength="27.4" lengthAdjust="spacingAndGlyphs">With TM</text>
<line x1="220.50" y1="386.00" x2="220.50" y2="485.00" stroke="#1e1e1e" stroke-width="1.2"/>
<line x1="217.50" y1="387.70" x2="220.50" y2="387.70" stroke="#1e1e1e" stroke-width="1.2"/>
<text x="214.20" y="390.42" font-size="8.0" text-anchor="end" font-weight="normal" fill="#262626">1500</text>
<line x1="217.50" y1="419.90" x2="220.50" y2="419.90" stroke="#1e1e1e" stroke-width="1.2"/>
<text x="214.20" y="422.62" font-size="8.0" text-anchor="end" font-weight="normal" fill="#262626">1000</text>
<line x1="217.50" y1="452.40" x2="220.50" y2="452.40" stroke="#1e1e1e" stroke-width="1.2"/>
<text x="214.20" y="455.12" font-size="8.0" text-anchor="end" font-weight="normal" fill="#262626">500</text>
<line x1="217.50" y1="485.00" x2="220.50" y2="485.00" stroke="#1e1e1e" stroke-width="1.2"/>
<text x="214.20" y="487.72" font-size="8.0" text-anchor="end" font-weight="normal" fill="#262626">0</text>
<line x1="220.50" y1="485.00" x2="342.50" y2="485.00" stroke="#1e1e1e" stroke-width="1.2"/>
<line x1="220.50" y1="485.00" x2="220.50" y2="487.60" stroke="#1e1e1e" stroke-width="1.2"/>
<line x1="250.40" y1="485.00" x2="250.40" y2="487.60" stroke="#1e1e1e" stroke-width="1.2"/>
<line x1="280.20" y1="485.00" x2="280.20" y2="487.60" stroke="#1e1e1e" stroke-width="1.2"/>
<line x1="310.10" y1="485.00" x2="310.10" y2="487.60" stroke="#1e1e1e" stroke-width="1.2"/>
<line x1="340.00" y1="485.00" x2="340.00" y2="487.60" stroke="#1e1e1e" stroke-width="1.2"/>
<text x="220.50" y="497.20" font-size="7.6" text-anchor="middle" font-weight="normal" fill="#262626">0</text>
<text x="250.40" y="497.20" font-size="7.6" text-anchor="middle" font-weight="normal" fill="#262626">50</text>
<text x="280.20" y="497.20" font-size="7.6" text-anchor="middle" font-weight="normal" fill="#262626">100</text>
<text x="310.10" y="497.20" font-size="7.6" text-anchor="middle" font-weight="normal" fill="#262626">150</text>
<text x="340.00" y="497.20" font-size="7.6" text-anchor="middle" font-weight="normal" fill="#262626">200</text>
<text x="281.10" y="509.00" font-size="8.4" text-anchor="middle" font-weight="normal" fill="#1a1a1a" stroke="#1a1a1a" stroke-width="0.2" textLength="23.8" lengthAdjust="spacingAndGlyphs">FPS (%)</text>
<text x="190.70" y="440.50" font-size="8.61" text-anchor="middle" font-weight="normal" fill="#1a1a1a" stroke="#1a1a1a" stroke-width="0.2" transform="rotate(-90 190.70 440.50)" textLength="53.4" lengthAdjust="spacingAndGlyphs">ETP +TM (nM.min)</text>
<text x="278.00" y="409.00" font-size="7" text-anchor="start" font-weight="normal" fill="#1a1a1a" stroke="#1a1a1a" stroke-width="0.08" textLength="36.1" lengthAdjust="spacingAndGlyphs"><tspan font-style="italic">r</tspan> = &#8722;0.545</text>
<text x="278.90" y="419.90" font-size="7" text-anchor="start" font-weight="normal" fill="#1a1a1a" stroke="#1a1a1a" stroke-width="0.08" textLength="47.1" lengthAdjust="spacingAndGlyphs"><tspan font-style="italic">P</tspan> &lt; .0001<tspan font-size="5" dy="-2.5">****</tspan></text>
<circle cx="249.20" cy="406.20" r="1.45" fill="#b5363f"/>
<circle cx="228.00" cy="439.40" r="1.45" fill="#b5363f"/>
<circle cx="248.40" cy="446.50" r="1.45" fill="#b5363f"/>
<circle cx="264.50" cy="454.40" r="1.45" fill="#b5363f"/>
<circle cx="225.30" cy="458.70" r="1.45" fill="#b5363f"/>
<circle cx="248.40" cy="461.50" r="1.45" fill="#b5363f"/>
<circle cx="255.50" cy="463.10" r="1.45" fill="#b5363f"/>
<circle cx="260.30" cy="462.50" r="1.45" fill="#b5363f"/>
<circle cx="251.70" cy="465.40" r="1.45" fill="#b5363f"/>
<circle cx="236.80" cy="467.70" r="1.45" fill="#b5363f"/>
<circle cx="228.60" cy="470.80" r="1.45" fill="#b5363f"/>
<circle cx="241.70" cy="470.80" r="1.45" fill="#b5363f"/>
<circle cx="254.50" cy="468.30" r="1.45" fill="#b5363f"/>
<circle cx="237.60" cy="474.60" r="1.45" fill="#b5363f"/>
<circle cx="257.40" cy="472.70" r="1.45" fill="#b5363f"/>
<circle cx="259.30" cy="474.00" r="1.45" fill="#b5363f"/>
<circle cx="234.30" cy="481.20" r="1.45" fill="#b5363f"/>
<circle cx="241.50" cy="483.10" r="1.45" fill="#b5363f"/>
<circle cx="244.90" cy="483.10" r="1.45" fill="#b5363f"/>
<circle cx="261.30" cy="476.90" r="1.45" fill="#b5363f"/>
<circle cx="266.10" cy="476.00" r="1.45" fill="#b5363f"/>
<circle cx="252.60" cy="474.00" r="1.45" fill="#b5363f"/>
<circle cx="277.60" cy="476.00" r="1.45" fill="#b5363f"/>
<rect x="236.70" y="446.20" width="3.0" height="3.0" fill="#324677"/>
<rect x="253.60" y="454.30" width="3.0" height="3.0" fill="#324677"/>
<rect x="251.10" y="462.00" width="3.0" height="3.0" fill="#324677"/>
<rect x="243.40" y="470.60" width="3.0" height="3.0" fill="#324677"/>
<rect x="250.20" y="471.60" width="3.0" height="3.0" fill="#324677"/>
<rect x="239.60" y="477.00" width="3.0" height="3.0" fill="#324677"/>
<rect x="250.20" y="477.70" width="3.0" height="3.0" fill="#324677"/>
<rect x="254.00" y="477.00" width="3.0" height="3.0" fill="#324677"/>
<rect x="255.90" y="476.40" width="3.0" height="3.0" fill="#324677"/>
<rect x="265.50" y="474.50" width="3.0" height="3.0" fill="#324677"/>
<rect x="266.10" y="476.40" width="3.0" height="3.0" fill="#324677"/>
<rect x="271.30" y="476.40" width="3.0" height="3.0" fill="#324677"/>
<rect x="280.00" y="476.40" width="3.0" height="3.0" fill="#324677"/>
<rect x="293.40" y="472.50" width="3.0" height="3.0" fill="#324677"/>
<rect x="270.30" y="481.20" width="3.0" height="3.0" fill="#324677"/>
<rect x="274.20" y="480.20" width="3.0" height="3.0" fill="#324677"/>
<rect x="280.00" y="480.20" width="3.0" height="3.0" fill="#324677"/>
<rect x="283.80" y="480.80" width="3.0" height="3.0" fill="#324677"/>
<rect x="287.30" y="481.20" width="3.0" height="3.0" fill="#324677"/>
<rect x="290.50" y="481.20" width="3.0" height="3.0" fill="#324677"/>
<rect x="295.30" y="480.20" width="3.0" height="3.0" fill="#324677"/>
<rect x="295.00" y="481.60" width="3.0" height="3.0" fill="#324677"/>
<rect x="315.50" y="481.20" width="3.0" height="3.0" fill="#324677"/>
<rect x="279.00" y="482.20" width="3.0" height="3.0" fill="#324677"/>
<rect x="321.00" y="480.00" width="3.0" height="3.0" fill="#324677"/>
<clipPath id="cJ"><rect x="220.9" y="380" width="125" height="104.6"/></clipPath><g clip-path="url(#cJ)">
<path d="M225.7,455.8 L241.0,461.5 L256.5,467.3 L272.0,471.8 L288.0,474.8 L304.5,476.9" fill="none" stroke="#a3a8b0" stroke-width="0.7"/>
<path d="M225.7,468.3 L238.0,472.5 L250.0,477.5 L262.0,482.0 L275.7,487.0" fill="none" stroke="#a3a8b0" stroke-width="0.7"/>
<path d="M225.7,461.9 L241.0,466.5 L256.5,471.5 L270.0,475.6 L281.5,478.8 L292.0,481.8 L302.6,484.6" fill="none" stroke="#1e1e1e" stroke-width="1.1"/>
</g>
<rect x="0" y="0" width="520" height="1" fill="#6a6a6a"/>
<rect x="0" y="0" width="1" height="518" fill="#6a6a6a"/>
<rect x="519" y="0" width="1" height="518" fill="#2e2e2e"/>
<rect x="0" y="517" width="520" height="1" fill="#2e2e2e"/>
</svg>
</body></html>
